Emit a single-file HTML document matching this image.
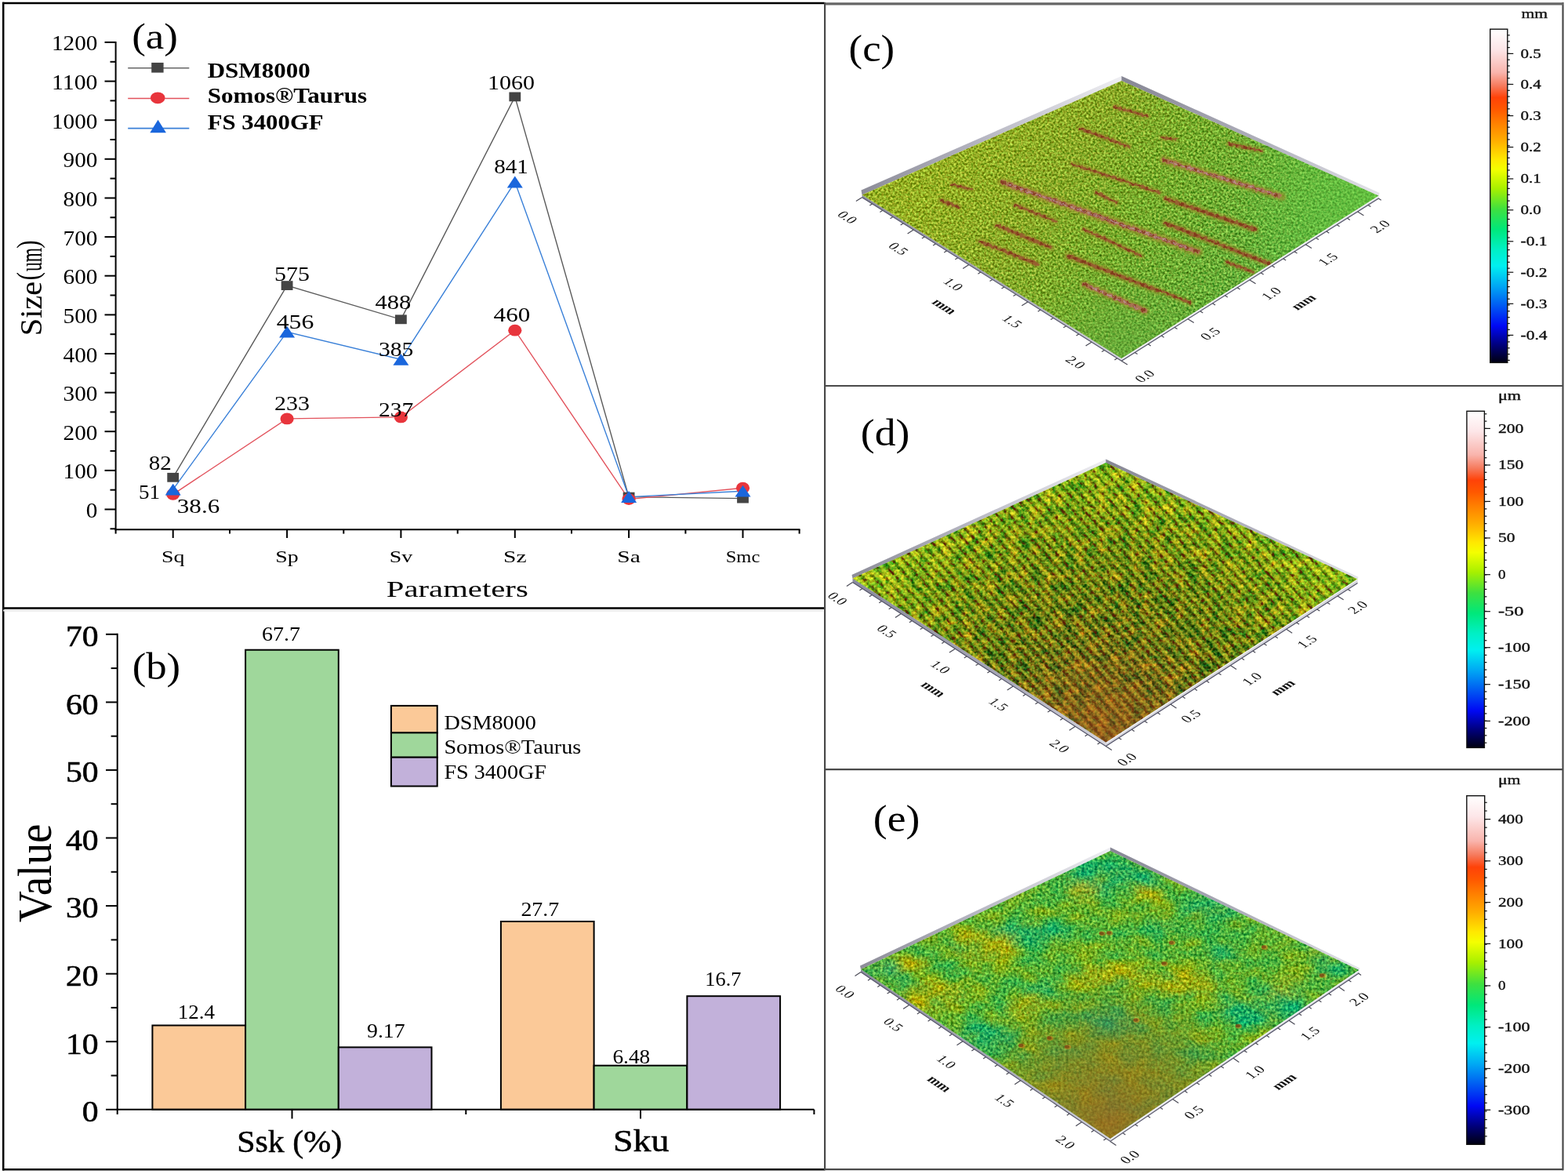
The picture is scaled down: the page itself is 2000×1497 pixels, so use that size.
<!DOCTYPE html><html><head><meta charset="utf-8"><title>Surface roughness figure</title>
<style>html,body{margin:0;padding:0;background:#fff;overflow:hidden}svg{display:block}</style></head><body>
<svg width="2000" height="1497" viewBox="0 0 2000 1497">
<rect width="2000" height="1497" fill="#fff"/>
<g stroke="#000" stroke-width="2" fill="none">
<line x1="147.6" y1="52.9" x2="147.6" y2="676.2"/>
<line x1="146.6" y1="675.2" x2="1020.5" y2="675.2"/>
<line x1="133.5" y1="649.5" x2="147.6" y2="649.5"/>
<line x1="133.5" y1="599.9" x2="147.6" y2="599.9"/>
<line x1="133.5" y1="550.2" x2="147.6" y2="550.2"/>
<line x1="133.5" y1="500.6" x2="147.6" y2="500.6"/>
<line x1="133.5" y1="451.0" x2="147.6" y2="451.0"/>
<line x1="133.5" y1="401.4" x2="147.6" y2="401.4"/>
<line x1="133.5" y1="351.7" x2="147.6" y2="351.7"/>
<line x1="133.5" y1="302.1" x2="147.6" y2="302.1"/>
<line x1="133.5" y1="252.5" x2="147.6" y2="252.5"/>
<line x1="133.5" y1="202.8" x2="147.6" y2="202.8"/>
<line x1="133.5" y1="153.2" x2="147.6" y2="153.2"/>
<line x1="133.5" y1="103.6" x2="147.6" y2="103.6"/>
<line x1="133.5" y1="53.9" x2="147.6" y2="53.9"/>
<line x1="140.5" y1="624.7" x2="147.6" y2="624.7"/>
<line x1="140.5" y1="575.1" x2="147.6" y2="575.1"/>
<line x1="140.5" y1="525.4" x2="147.6" y2="525.4"/>
<line x1="140.5" y1="475.8" x2="147.6" y2="475.8"/>
<line x1="140.5" y1="426.2" x2="147.6" y2="426.2"/>
<line x1="140.5" y1="376.5" x2="147.6" y2="376.5"/>
<line x1="140.5" y1="326.9" x2="147.6" y2="326.9"/>
<line x1="140.5" y1="277.3" x2="147.6" y2="277.3"/>
<line x1="140.5" y1="227.6" x2="147.6" y2="227.6"/>
<line x1="140.5" y1="178.0" x2="147.6" y2="178.0"/>
<line x1="140.5" y1="128.4" x2="147.6" y2="128.4"/>
<line x1="140.5" y1="78.8" x2="147.6" y2="78.8"/>
<line x1="140.5" y1="674.3" x2="147.6" y2="674.3"/>
<line x1="220.7" y1="675.2" x2="220.7" y2="686"/>
<line x1="366.1" y1="675.2" x2="366.1" y2="686"/>
<line x1="511.4" y1="675.2" x2="511.4" y2="686"/>
<line x1="656.8" y1="675.2" x2="656.8" y2="686"/>
<line x1="802.1" y1="675.2" x2="802.1" y2="686"/>
<line x1="947.5" y1="675.2" x2="947.5" y2="686"/>
<line x1="147.6" y1="675.2" x2="147.6" y2="680.6"/>
<line x1="293.0" y1="675.2" x2="293.0" y2="680.6"/>
<line x1="438.3" y1="675.2" x2="438.3" y2="680.6"/>
<line x1="583.7" y1="675.2" x2="583.7" y2="680.6"/>
<line x1="729.0" y1="675.2" x2="729.0" y2="680.6"/>
<line x1="874.4" y1="675.2" x2="874.4" y2="680.6"/>
<line x1="1019.6" y1="675.2" x2="1019.6" y2="680.6"/>
</g>
<text x="124.4" y="660.0" font-size="26.5" font-family="'Liberation Serif', 'Noto Serif CJK SC', serif" fill="#000" text-anchor="end" textLength="14.6" lengthAdjust="spacingAndGlyphs">0</text>
<text x="124.4" y="610.4" font-size="26.5" font-family="'Liberation Serif', 'Noto Serif CJK SC', serif" fill="#000" text-anchor="end" textLength="43.8" lengthAdjust="spacingAndGlyphs">100</text>
<text x="124.4" y="560.7" font-size="26.5" font-family="'Liberation Serif', 'Noto Serif CJK SC', serif" fill="#000" text-anchor="end" textLength="43.8" lengthAdjust="spacingAndGlyphs">200</text>
<text x="124.4" y="511.1" font-size="26.5" font-family="'Liberation Serif', 'Noto Serif CJK SC', serif" fill="#000" text-anchor="end" textLength="43.8" lengthAdjust="spacingAndGlyphs">300</text>
<text x="124.4" y="461.5" font-size="26.5" font-family="'Liberation Serif', 'Noto Serif CJK SC', serif" fill="#000" text-anchor="end" textLength="43.8" lengthAdjust="spacingAndGlyphs">400</text>
<text x="124.4" y="411.9" font-size="26.5" font-family="'Liberation Serif', 'Noto Serif CJK SC', serif" fill="#000" text-anchor="end" textLength="43.8" lengthAdjust="spacingAndGlyphs">500</text>
<text x="124.4" y="362.2" font-size="26.5" font-family="'Liberation Serif', 'Noto Serif CJK SC', serif" fill="#000" text-anchor="end" textLength="43.8" lengthAdjust="spacingAndGlyphs">600</text>
<text x="124.4" y="312.6" font-size="26.5" font-family="'Liberation Serif', 'Noto Serif CJK SC', serif" fill="#000" text-anchor="end" textLength="43.8" lengthAdjust="spacingAndGlyphs">700</text>
<text x="124.4" y="263.0" font-size="26.5" font-family="'Liberation Serif', 'Noto Serif CJK SC', serif" fill="#000" text-anchor="end" textLength="43.8" lengthAdjust="spacingAndGlyphs">800</text>
<text x="124.4" y="213.3" font-size="26.5" font-family="'Liberation Serif', 'Noto Serif CJK SC', serif" fill="#000" text-anchor="end" textLength="43.8" lengthAdjust="spacingAndGlyphs">900</text>
<text x="124.4" y="163.7" font-size="26.5" font-family="'Liberation Serif', 'Noto Serif CJK SC', serif" fill="#000" text-anchor="end" textLength="58.4" lengthAdjust="spacingAndGlyphs">1000</text>
<text x="124.4" y="114.1" font-size="26.5" font-family="'Liberation Serif', 'Noto Serif CJK SC', serif" fill="#000" text-anchor="end" textLength="58.4" lengthAdjust="spacingAndGlyphs">1100</text>
<text x="124.4" y="64.4" font-size="26.5" font-family="'Liberation Serif', 'Noto Serif CJK SC', serif" fill="#000" text-anchor="end" textLength="58.4" lengthAdjust="spacingAndGlyphs">1200</text>
<text x="220.7" y="716.6" font-size="22" font-family="'Liberation Serif', 'Noto Serif CJK SC', serif" fill="#000" text-anchor="middle" textLength="29.5" lengthAdjust="spacingAndGlyphs">Sq</text>
<text x="366.1" y="716.6" font-size="22" font-family="'Liberation Serif', 'Noto Serif CJK SC', serif" fill="#000" text-anchor="middle" textLength="29.5" lengthAdjust="spacingAndGlyphs">Sp</text>
<text x="511.4" y="716.6" font-size="22" font-family="'Liberation Serif', 'Noto Serif CJK SC', serif" fill="#000" text-anchor="middle" textLength="29.5" lengthAdjust="spacingAndGlyphs">Sv</text>
<text x="656.8" y="716.6" font-size="22" font-family="'Liberation Serif', 'Noto Serif CJK SC', serif" fill="#000" text-anchor="middle" textLength="29.5" lengthAdjust="spacingAndGlyphs">Sz</text>
<text x="802.1" y="716.6" font-size="22" font-family="'Liberation Serif', 'Noto Serif CJK SC', serif" fill="#000" text-anchor="middle" textLength="29.5" lengthAdjust="spacingAndGlyphs">Sa</text>
<text x="947.5" y="716.6" font-size="22" font-family="'Liberation Serif', 'Noto Serif CJK SC', serif" fill="#000" text-anchor="middle" textLength="43.5" lengthAdjust="spacingAndGlyphs">Smc</text>
<text x="583.3" y="760.5" font-size="29" font-family="'Liberation Serif', 'Noto Serif CJK SC', serif" fill="#000" text-anchor="middle" textLength="181.0" lengthAdjust="spacingAndGlyphs">Parameters</text>
<g transform="translate(52.5,367.7) rotate(-90) scale(1,1.24)">
<text x="-60.6" y="0.0" font-size="33" font-family="'Liberation Serif', 'Noto Serif CJK SC', serif" fill="#000" textLength="69.5" lengthAdjust="spacingAndGlyphs">Size</text>
<text x="10.2" y="-2.8" font-size="33" font-family="'Liberation Serif', 'Noto Serif CJK SC', serif" fill="#000" textLength="10.5" lengthAdjust="spacingAndGlyphs">(</text>
<text x="21.6" y="0.0" font-size="33" font-family="'Liberation Serif', 'Noto Serif CJK SC', serif" fill="#000" textLength="30.2" lengthAdjust="spacingAndGlyphs">um</text>
<text x="51.0" y="-2.8" font-size="33" font-family="'Liberation Serif', 'Noto Serif CJK SC', serif" fill="#000" textLength="10.5" lengthAdjust="spacingAndGlyphs">)</text>
</g>
<text x="168.2" y="61.6" font-size="47" font-family="'Liberation Serif', 'Noto Serif CJK SC', serif" fill="#000" textLength="58.7" lengthAdjust="spacingAndGlyphs">(a)</text>
<polyline points="220.7,608.8 366.1,364.1 511.4,407.3 656.8,123.4 802.1,633.6 947.5,635.6" fill="none" stroke="#5a5a5a" stroke-width="1.4"/>
<polyline points="220.7,630.3 366.1,533.9 511.4,531.9 656.8,421.2 802.1,636.6 947.5,622.2" fill="none" stroke="#e2525c" stroke-width="1.4"/>
<polyline points="220.7,624.2 366.1,423.2 511.4,458.4 656.8,232.1 802.1,633.6 947.5,626.2" fill="none" stroke="#3a80d8" stroke-width="1.4"/>
<rect x="213.3" y="602.9" width="14.8" height="11.8" fill="#444"/>
<rect x="358.7" y="358.2" width="14.8" height="11.8" fill="#444"/>
<rect x="504.0" y="401.4" width="14.8" height="11.8" fill="#444"/>
<rect x="649.4" y="117.5" width="14.8" height="11.8" fill="#444"/>
<rect x="794.7" y="627.7" width="14.8" height="11.8" fill="#444"/>
<rect x="940.1" y="629.7" width="14.8" height="11.8" fill="#444"/>
<ellipse cx="220.7" cy="630.3" rx="8.6" ry="7.4" fill="#e8353c"/>
<ellipse cx="366.1" cy="533.9" rx="8.6" ry="7.4" fill="#e8353c"/>
<ellipse cx="511.4" cy="531.9" rx="8.6" ry="7.4" fill="#e8353c"/>
<ellipse cx="656.8" cy="421.2" rx="8.6" ry="7.4" fill="#e8353c"/>
<ellipse cx="802.1" cy="636.6" rx="8.6" ry="7.4" fill="#e8353c"/>
<ellipse cx="947.5" cy="622.2" rx="8.6" ry="7.4" fill="#e8353c"/>
<polygon points="210.7,631.5 230.7,631.5 220.7,616.7" fill="#1a66dc"/>
<polygon points="356.1,430.5 376.1,430.5 366.1,415.7" fill="#1a66dc"/>
<polygon points="501.4,465.7 521.4,465.7 511.4,450.9" fill="#1a66dc"/>
<polygon points="646.8,239.4 666.8,239.4 656.8,224.6" fill="#1a66dc"/>
<polygon points="792.1,640.9 812.1,640.9 802.1,626.1" fill="#1a66dc"/>
<polygon points="937.5,633.5 957.5,633.5 947.5,618.7" fill="#1a66dc"/>
<text x="621.9" y="114.0" font-size="25.5" font-family="'Liberation Serif', 'Noto Serif CJK SC', serif" fill="#000" textLength="60.0" lengthAdjust="spacingAndGlyphs">1060</text>
<text x="630.2" y="221.4" font-size="25.5" font-family="'Liberation Serif', 'Noto Serif CJK SC', serif" fill="#000" textLength="43.7" lengthAdjust="spacingAndGlyphs">841</text>
<text x="629.6" y="410.4" font-size="25.5" font-family="'Liberation Serif', 'Noto Serif CJK SC', serif" fill="#000" textLength="46.6" lengthAdjust="spacingAndGlyphs">460</text>
<text x="478.5" y="394.4" font-size="25.5" font-family="'Liberation Serif', 'Noto Serif CJK SC', serif" fill="#000" textLength="45.8" lengthAdjust="spacingAndGlyphs">488</text>
<text x="483.0" y="453.8" font-size="25.5" font-family="'Liberation Serif', 'Noto Serif CJK SC', serif" fill="#000" textLength="44.4" lengthAdjust="spacingAndGlyphs">385</text>
<text x="483.0" y="530.5" font-size="25.5" font-family="'Liberation Serif', 'Noto Serif CJK SC', serif" fill="#000" textLength="44.4" lengthAdjust="spacingAndGlyphs">237</text>
<text x="350.0" y="358.1" font-size="25.5" font-family="'Liberation Serif', 'Noto Serif CJK SC', serif" fill="#000" textLength="45.0" lengthAdjust="spacingAndGlyphs">575</text>
<text x="352.7" y="418.9" font-size="25.5" font-family="'Liberation Serif', 'Noto Serif CJK SC', serif" fill="#000" textLength="47.7" lengthAdjust="spacingAndGlyphs">456</text>
<text x="350.0" y="523.1" font-size="25.5" font-family="'Liberation Serif', 'Noto Serif CJK SC', serif" fill="#000" textLength="45.0" lengthAdjust="spacingAndGlyphs">233</text>
<text x="189.7" y="599.2" font-size="25.5" font-family="'Liberation Serif', 'Noto Serif CJK SC', serif" fill="#000" textLength="29.0" lengthAdjust="spacingAndGlyphs">82</text>
<text x="176.9" y="636.1" font-size="25.5" font-family="'Liberation Serif', 'Noto Serif CJK SC', serif" fill="#000" textLength="27.1" lengthAdjust="spacingAndGlyphs">51</text>
<text x="225.8" y="654.0" font-size="25.5" font-family="'Liberation Serif', 'Noto Serif CJK SC', serif" fill="#000" textLength="54.4" lengthAdjust="spacingAndGlyphs">38.6</text>
<line x1="163.2" y1="86.8" x2="241.3" y2="86.8" stroke="#666" stroke-width="1.6"/>
<rect x="193.2" y="79.9" width="15.4" height="12.7" fill="#444"/>
<line x1="163.2" y1="125.5" x2="241.3" y2="125.5" stroke="#e2525c" stroke-width="1.6"/>
<ellipse cx="201.2" cy="124.8" rx="9.3" ry="7.4" fill="#e8353c"/>
<line x1="163.2" y1="163.6" x2="241.3" y2="163.6" stroke="#3a80d8" stroke-width="1.6"/>
<polygon points="191.3,169.3 211.9,169.3 201.5,152.8" fill="#1a66dc"/>
<text x="264.7" y="98.9" font-size="26.5" font-family="'Liberation Serif', 'Noto Serif CJK SC', serif" fill="#000" font-weight="bold" textLength="131.0" lengthAdjust="spacingAndGlyphs">DSM8000</text>
<text x="264.7" y="131.4" font-size="26.5" font-family="'Liberation Serif', 'Noto Serif CJK SC', serif" fill="#000" font-weight="bold" textLength="203.5" lengthAdjust="spacingAndGlyphs">Somos®Taurus</text>
<text x="264.7" y="164.9" font-size="26.5" font-family="'Liberation Serif', 'Noto Serif CJK SC', serif" fill="#000" font-weight="bold" textLength="148.0" lengthAdjust="spacingAndGlyphs">FS 3400GF</text>
<rect x="194.4" y="1307.5" width="118.7" height="107.3" fill="#fbc998" stroke="#000" stroke-width="2"/>
<rect x="313.1" y="828.7" width="118.7" height="586.1" fill="#9fd79b" stroke="#000" stroke-width="2"/>
<rect x="431.8" y="1335.4" width="118.7" height="79.4" fill="#c2b1da" stroke="#000" stroke-width="2"/>
<rect x="638.9" y="1175.0" width="118.7" height="239.8" fill="#fbc998" stroke="#000" stroke-width="2"/>
<rect x="757.6" y="1358.7" width="118.7" height="56.1" fill="#9fd79b" stroke="#000" stroke-width="2"/>
<rect x="876.4" y="1270.2" width="118.7" height="144.6" fill="#c2b1da" stroke="#000" stroke-width="2"/>
<g stroke="#000" stroke-width="2" fill="none">
<line x1="149.7" y1="807.8" x2="149.7" y2="1421"/>
<line x1="148.7" y1="1414.8" x2="1038.4" y2="1414.8"/>
<line x1="135" y1="1414.8" x2="149.7" y2="1414.8"/>
<line x1="135" y1="1328.2" x2="149.7" y2="1328.2"/>
<line x1="135" y1="1241.7" x2="149.7" y2="1241.7"/>
<line x1="135" y1="1155.1" x2="149.7" y2="1155.1"/>
<line x1="135" y1="1068.5" x2="149.7" y2="1068.5"/>
<line x1="135" y1="981.9" x2="149.7" y2="981.9"/>
<line x1="135" y1="895.4" x2="149.7" y2="895.4"/>
<line x1="135" y1="808.8" x2="149.7" y2="808.8"/>
<line x1="141.6" y1="1371.5" x2="149.7" y2="1371.5"/>
<line x1="141.6" y1="1284.9" x2="149.7" y2="1284.9"/>
<line x1="141.6" y1="1198.4" x2="149.7" y2="1198.4"/>
<line x1="141.6" y1="1111.8" x2="149.7" y2="1111.8"/>
<line x1="141.6" y1="1025.2" x2="149.7" y2="1025.2"/>
<line x1="141.6" y1="938.7" x2="149.7" y2="938.7"/>
<line x1="141.6" y1="852.1" x2="149.7" y2="852.1"/>
<line x1="372.5" y1="1414.8" x2="372.5" y2="1426.5"/>
<line x1="817" y1="1414.8" x2="817" y2="1426.5"/>
<line x1="594.3" y1="1414.8" x2="594.3" y2="1421"/>
<line x1="1038.4" y1="1414.8" x2="1038.4" y2="1421"/>
</g>
<text x="125.5" y="1430.1" font-size="37" font-family="'Liberation Serif', 'Noto Serif CJK SC', serif" fill="#000" text-anchor="end" textLength="20.8" lengthAdjust="spacingAndGlyphs" stroke="#000" stroke-width="0.6">0</text>
<text x="125.5" y="1343.5" font-size="37" font-family="'Liberation Serif', 'Noto Serif CJK SC', serif" fill="#000" text-anchor="end" textLength="41.6" lengthAdjust="spacingAndGlyphs" stroke="#000" stroke-width="0.6">10</text>
<text x="125.5" y="1257.0" font-size="37" font-family="'Liberation Serif', 'Noto Serif CJK SC', serif" fill="#000" text-anchor="end" textLength="41.6" lengthAdjust="spacingAndGlyphs" stroke="#000" stroke-width="0.6">20</text>
<text x="125.5" y="1170.4" font-size="37" font-family="'Liberation Serif', 'Noto Serif CJK SC', serif" fill="#000" text-anchor="end" textLength="41.6" lengthAdjust="spacingAndGlyphs" stroke="#000" stroke-width="0.6">30</text>
<text x="125.5" y="1083.8" font-size="37" font-family="'Liberation Serif', 'Noto Serif CJK SC', serif" fill="#000" text-anchor="end" textLength="41.6" lengthAdjust="spacingAndGlyphs" stroke="#000" stroke-width="0.6">40</text>
<text x="125.5" y="997.2" font-size="37" font-family="'Liberation Serif', 'Noto Serif CJK SC', serif" fill="#000" text-anchor="end" textLength="41.6" lengthAdjust="spacingAndGlyphs" stroke="#000" stroke-width="0.6">50</text>
<text x="125.5" y="910.7" font-size="37" font-family="'Liberation Serif', 'Noto Serif CJK SC', serif" fill="#000" text-anchor="end" textLength="41.6" lengthAdjust="spacingAndGlyphs" stroke="#000" stroke-width="0.6">60</text>
<text x="125.5" y="824.1" font-size="37" font-family="'Liberation Serif', 'Noto Serif CJK SC', serif" fill="#000" text-anchor="end" textLength="41.6" lengthAdjust="spacingAndGlyphs" stroke="#000" stroke-width="0.6">70</text>
<text x="168.7" y="866.0" font-size="48" font-family="'Liberation Serif', 'Noto Serif CJK SC', serif" fill="#000" textLength="61.5" lengthAdjust="spacingAndGlyphs">(b)</text>
<text x="0.0" y="0.0" font-size="50" font-family="'Liberation Serif', 'Noto Serif CJK SC', serif" fill="#000" text-anchor="middle" textLength="125.5" lengthAdjust="spacingAndGlyphs" transform="translate(64.5,1113.3) rotate(-90) scale(1,1.22)">Value</text>
<text x="369.2" y="1468.6" font-size="40" font-family="'Liberation Serif', 'Noto Serif CJK SC', serif" fill="#000" text-anchor="middle" textLength="134.0" lengthAdjust="spacingAndGlyphs" stroke="#000" stroke-width="0.5">Ssk (%)</text>
<text x="817.7" y="1467.6" font-size="40" font-family="'Liberation Serif', 'Noto Serif CJK SC', serif" fill="#000" text-anchor="middle" textLength="71.6" lengthAdjust="spacingAndGlyphs" stroke="#000" stroke-width="0.5">Sku</text>
<text x="334.0" y="817.2" font-size="24.5" font-family="'Liberation Serif', 'Noto Serif CJK SC', serif" fill="#000" textLength="49.0" lengthAdjust="spacingAndGlyphs">67.7</text>
<text x="226.7" y="1298.9" font-size="24.5" font-family="'Liberation Serif', 'Noto Serif CJK SC', serif" fill="#000" textLength="47.3" lengthAdjust="spacingAndGlyphs">12.4</text>
<text x="468.0" y="1323.3" font-size="24.5" font-family="'Liberation Serif', 'Noto Serif CJK SC', serif" fill="#000" textLength="48.6" lengthAdjust="spacingAndGlyphs">9.17</text>
<text x="664.4" y="1168.1" font-size="24.5" font-family="'Liberation Serif', 'Noto Serif CJK SC', serif" fill="#000" textLength="48.8" lengthAdjust="spacingAndGlyphs">27.7</text>
<text x="781.4" y="1355.7" font-size="24.5" font-family="'Liberation Serif', 'Noto Serif CJK SC', serif" fill="#000" textLength="47.9" lengthAdjust="spacingAndGlyphs">6.48</text>
<text x="899.3" y="1257.2" font-size="24.5" font-family="'Liberation Serif', 'Noto Serif CJK SC', serif" fill="#000" textLength="46.1" lengthAdjust="spacingAndGlyphs">16.7</text>
<rect x="498.9" y="899.9" width="58.8" height="34.5" fill="#fbc998" stroke="#000" stroke-width="2"/>
<rect x="498.9" y="934.4" width="58.8" height="31.3" fill="#9fd79b" stroke="#000" stroke-width="2"/>
<rect x="498.9" y="965.7" width="58.8" height="36.8" fill="#c2b1da" stroke="#000" stroke-width="2"/>
<text x="566.4" y="930.3" font-size="26" font-family="'Liberation Serif', 'Noto Serif CJK SC', serif" fill="#000" textLength="117.5" lengthAdjust="spacingAndGlyphs">DSM8000</text>
<text x="566.4" y="961.4" font-size="26" font-family="'Liberation Serif', 'Noto Serif CJK SC', serif" fill="#000" textLength="175.0" lengthAdjust="spacingAndGlyphs">Somos®Taurus</text>
<text x="566.4" y="992.7" font-size="26" font-family="'Liberation Serif', 'Noto Serif CJK SC', serif" fill="#000" textLength="130.5" lengthAdjust="spacingAndGlyphs">FS 3400GF</text>
<defs>
<linearGradient id="cbg" x1="0" y1="0" x2="0" y2="1"><stop offset="0.0" stop-color="#ffffff"/><stop offset="0.06" stop-color="#fde6e8"/><stop offset="0.13" stop-color="#f9b4ac"/><stop offset="0.17" stop-color="#f67a5c"/><stop offset="0.205" stop-color="#ff4208"/><stop offset="0.24" stop-color="#ff5800"/><stop offset="0.28" stop-color="#ff7e00"/><stop offset="0.335" stop-color="#ffae00"/><stop offset="0.39" stop-color="#ffe800"/><stop offset="0.42" stop-color="#f4ff00"/><stop offset="0.478" stop-color="#a8f000"/><stop offset="0.54" stop-color="#3ee040"/><stop offset="0.6" stop-color="#00e87a"/><stop offset="0.66" stop-color="#00f0c4"/><stop offset="0.71" stop-color="#00f0f0"/><stop offset="0.77" stop-color="#00a8f4"/><stop offset="0.82" stop-color="#0066f2"/><stop offset="0.89" stop-color="#0008f4"/><stop offset="0.945" stop-color="#000080"/><stop offset="1.0" stop-color="#000010"/></linearGradient>
<filter id="fxc" x="0" y="0" width="1" height="1" color-interpolation-filters="sRGB"><feTurbulence type="fractalNoise" baseFrequency="0.36" numOctaves="2" seed="7" result="n"/><feColorMatrix in="n" type="matrix" values="0.427 0.107 0 0 0.233  0.427 -0.043 0 0 0.308  0.299 0.000 0 0 0.350  0 0 0 0 1" result="m"/><feComposite in="SourceGraphic" in2="m" operator="arithmetic" k2="1" k3="2.0" k4="-1.0" result="r1"/></filter>
<filter id="rough" x="-5%" y="-20%" width="110%" height="140%"><feTurbulence type="fractalNoise" baseFrequency="0.25" numOctaves="2" seed="9" result="t"/><feDisplacementMap in="SourceGraphic" in2="t" scale="5" xChannelSelector="R" yChannelSelector="G" result="d"/><feGaussianBlur in="d" stdDeviation="0.6"/></filter>
<filter id="sblur" x="-10%" y="-50%" width="120%" height="200%"><feGaussianBlur stdDeviation="1.6"/></filter>
<filter id="fxd" x="0" y="0" width="1" height="1" color-interpolation-filters="sRGB"><feTurbulence type="fractalNoise" baseFrequency="0.3" numOctaves="2" seed="11" result="n"/><feColorMatrix in="n" type="matrix" values="0.427 0.385 0 0 0.094  0.470 0.000 0 0 0.265  0.171 0.000 0 0 0.415  0 0 0 0 1" result="m"/><feComposite in="SourceGraphic" in2="m" operator="arithmetic" k2="1" k3="2.0" k4="-1.0" result="r1"/><feTurbulence type="fractalNoise" baseFrequency="0.07" numOctaves="2" seed="13" result="n2"/><feColorMatrix in="n2" type="matrix" values="0.513 0.000 0 0 0.244  0.171 0.000 0 0 0.415  0.000 0.000 0 0 0.500  0 0 0 0 1" result="m2"/><feComposite in="r1" in2="m2" operator="arithmetic" k2="1" k3="2.0" k4="-1.0"/></filter>
<pattern id="pd" patternUnits="userSpaceOnUse" width="40" height="10.6"><rect y="0.8" width="40" height="4.6" fill="#d8e030" fill-opacity="0.2"/><rect y="1.8" width="40" height="2.6" fill="#e8e830" fill-opacity="0.22"/><rect y="6.4" width="40" height="3.2" fill="#183000" fill-opacity="0.28"/></pattern>
<pattern id="pdd" patternUnits="userSpaceOnUse" width="40" height="10.6"><rect y="6.2" width="40" height="3.6" fill="#5a1806"/></pattern>
<filter id="dots" x="0" y="0" width="1" height="1" color-interpolation-filters="sRGB"><feTurbulence type="fractalNoise" baseFrequency="0.22 0.3" numOctaves="1" seed="21" result="n"/><feColorMatrix in="n" type="matrix" values="0 0 0 0 0  0 0 0 0 0  0 0 0 0 0  6 0 0 0 -3.0" result="a"/><feComposite in="SourceGraphic" in2="a" operator="in"/></filter>
<filter id="fxe" x="0" y="0" width="1" height="1" color-interpolation-filters="sRGB"><feTurbulence type="fractalNoise" baseFrequency="0.3" numOctaves="2" seed="3" result="n"/><feColorMatrix in="n" type="matrix" values="0.385 0.171 0 0 0.222  0.427 0.000 0 0 0.286  0.214 0.000 0 0 0.393  0 0 0 0 1" result="m"/><feComposite in="SourceGraphic" in2="m" operator="arithmetic" k2="1" k3="2.0" k4="-1.0" result="r1"/><feTurbulence type="fractalNoise" baseFrequency="0.03 0.045" numOctaves="2" seed="5" result="n2"/><feColorMatrix in="n2" type="matrix" values="0.285 0.000 0 0 0.358  -0.000 0.000 0 0 0.500  -0.171 0.000 0 0 0.585  0 0 0 0 1" result="m2"/><feComposite in="r1" in2="m2" operator="arithmetic" k2="1" k3="2.0" k4="-1.0"/></filter>
<filter id="pblur" x="-20%" y="-20%" width="140%" height="140%"><feGaussianBlur stdDeviation="7"/></filter>
<linearGradient id="gc" gradientUnits="userSpaceOnUse" x1="1250" y1="150" x2="1600" y2="400">
<stop offset="0" stop-color="#94ae24"/><stop offset="0.3" stop-color="#88a828"/><stop offset="0.55" stop-color="#76aa2d"/><stop offset="1" stop-color="#62ac3c"/></linearGradient>
<radialGradient id="gc2" gradientUnits="userSpaceOnUse" cx="1745" cy="250" r="175">
<stop offset="0" stop-color="#64cc42" stop-opacity="0.95"/><stop offset="0.5" stop-color="#64cc42" stop-opacity="0.55"/><stop offset="1" stop-color="#64cc42" stop-opacity="0"/></radialGradient>
<radialGradient id="gc3" gradientUnits="userSpaceOnUse" cx="1430" cy="450" r="120">
<stop offset="0" stop-color="#5faa41" stop-opacity="0.7"/><stop offset="1" stop-color="#5faa41" stop-opacity="0"/></radialGradient>
<radialGradient id="gd" gradientUnits="userSpaceOnUse" cx="1410" cy="946" r="360">
<stop offset="0" stop-color="#8c5a1c"/><stop offset="0.25" stop-color="#726818"/><stop offset="0.5" stop-color="#5e7612"/><stop offset="0.75" stop-color="#739612"/><stop offset="1" stop-color="#88bc16"/></radialGradient>
<radialGradient id="gd2" gradientUnits="userSpaceOnUse" cx="1410" cy="940" r="130">
<stop offset="0" stop-color="#925c1e" stop-opacity="0.9"/><stop offset="1" stop-color="#925c1e" stop-opacity="0"/></radialGradient>
<radialGradient id="ge2" gradientUnits="userSpaceOnUse" cx="1416" cy="1430" r="185">
<stop offset="0" stop-color="#a4601e" stop-opacity="0.92"/><stop offset="0.55" stop-color="#9a6a1c" stop-opacity="0.55"/><stop offset="1" stop-color="#96701a" stop-opacity="0"/></radialGradient>
<clipPath id="clc"><polygon points="1099.5,248.5 1430.5,103.0 1758.6,249.7 1430.5,457.0"/></clipPath>
<clipPath id="cld"><polygon points="1087.5,737.5 1410.5,590.0 1731.6,738.4 1410.5,946.6"/></clipPath>
<clipPath id="cle"><polygon points="1098.0,1236.0 1416.2,1085.0 1733.5,1237.1 1416.2,1451.8"/></clipPath>
</defs>
<linearGradient id="wlc" gradientUnits="userSpaceOnUse" x1="1099.5" y1="248.5" x2="1430.5" y2="103"><stop offset="0" stop-color="#8c8c98"/><stop offset="0.45" stop-color="#b4b4c0"/><stop offset="1" stop-color="#eeeef2"/></linearGradient>
<linearGradient id="wrc" gradientUnits="userSpaceOnUse" x1="1430.5" y1="103" x2="1758.6" y2="249.7"><stop offset="0" stop-color="#868694"/><stop offset="0.6" stop-color="#b4b4c0"/><stop offset="1" stop-color="#e4e4ea"/></linearGradient>
<polygon points="1098.5,242.5 1430.5,97.0 1430.5,103.0 1099.5,248.5" fill="url(#wlc)"/>
<polygon points="1430.5,97.0 1759.6,246.1 1758.6,249.7 1430.5,103.0" fill="url(#wrc)"/>
<linearGradient id="flc" gradientUnits="userSpaceOnUse" x1="1099.5" y1="248.5" x2="1430.5" y2="457"><stop offset="0" stop-color="#8a8a9c"/><stop offset="0.6" stop-color="#a8a8b8"/><stop offset="1" stop-color="#d4d4de"/></linearGradient>
<polygon points="1099.5,248.5 1430.5,457.0 1430.5,460.2 1099.5,251.7" fill="url(#flc)"/>
<polygon points="1430.5,457.0 1758.6,249.7 1758.6,252.9 1430.5,460.2" fill="#d4d4dc"/>
<g clip-path="url(#clc)">
<rect x="1097.5" y="101" width="663.0999999999999" height="358" fill="url(#gc)" filter="url(#fxc)"/>
<rect x="1097.5" y="101" width="663.0999999999999" height="358" fill="url(#gc2)" opacity="0.6"/>
<rect x="1097.5" y="101" width="663.0999999999999" height="358" fill="url(#gc3)" opacity="0.6"/>
<g stroke-linecap="round" opacity="0.6" filter="url(#sblur)">
<line x1="1421.8" y1="136.4" x2="1463.4" y2="148.1" stroke="#9a8a2a" stroke-width="7.2"/>
<line x1="1377.6" y1="163.7" x2="1440" y2="187.1" stroke="#9a8a2a" stroke-width="7.2"/>
<line x1="1481.6" y1="175.4" x2="1499.8" y2="178" stroke="#9a8a2a" stroke-width="6.0"/>
<line x1="1567.4" y1="183.2" x2="1609" y2="192.3" stroke="#9a8a2a" stroke-width="7.2"/>
<line x1="1484.2" y1="204" x2="1635" y2="250.8" stroke="#9a8a2a" stroke-width="10.8"/>
<line x1="1367.2" y1="209.2" x2="1479" y2="245.6" stroke="#9a8a2a" stroke-width="7.2"/>
<line x1="1278.8" y1="232.6" x2="1528.4" y2="321" stroke="#9a8a2a" stroke-width="12.0"/>
<line x1="1486.8" y1="253.4" x2="1601.2" y2="292.4" stroke="#9a8a2a" stroke-width="9.6"/>
<line x1="1213.8" y1="235.2" x2="1239.8" y2="241.7" stroke="#9a8a2a" stroke-width="6.0"/>
<line x1="1200.8" y1="256" x2="1221.6" y2="263.8" stroke="#9a8a2a" stroke-width="8.4"/>
<line x1="1294.4" y1="261.2" x2="1346.4" y2="282" stroke="#9a8a2a" stroke-width="7.2"/>
<line x1="1398.4" y1="245.6" x2="1424.4" y2="258.6" stroke="#9a8a2a" stroke-width="7.2"/>
<line x1="1486.8" y1="284.6" x2="1619.4" y2="336.6" stroke="#9a8a2a" stroke-width="9.6"/>
<line x1="1271" y1="287.2" x2="1341.2" y2="315.8" stroke="#9a8a2a" stroke-width="8.4"/>
<line x1="1250.2" y1="308" x2="1323" y2="336.6" stroke="#9a8a2a" stroke-width="8.4"/>
<line x1="1382.8" y1="292.4" x2="1455.6" y2="326.2" stroke="#9a8a2a" stroke-width="7.2"/>
<line x1="1362" y1="326.2" x2="1476.4" y2="370.4" stroke="#9a8a2a" stroke-width="9.6"/>
<line x1="1382.8" y1="362.6" x2="1460.8" y2="396.4" stroke="#9a8a2a" stroke-width="10.8"/>
<line x1="1564.8" y1="334" x2="1598.6" y2="347" stroke="#9a8a2a" stroke-width="7.2"/>
<line x1="1479" y1="370.4" x2="1518" y2="386" stroke="#9a8a2a" stroke-width="7.2"/>
</g>
<g stroke-linecap="round" opacity="0.85" filter="url(#rough)">
<line x1="1421.8" y1="136.4" x2="1463.4" y2="148.1" stroke="#985430" stroke-width="3.4" stroke-dasharray="9 2 12 3 5 2"/>
<line x1="1377.6" y1="163.7" x2="1440" y2="187.1" stroke="#985430" stroke-width="3.4" stroke-dasharray="9 2 12 3 5 2"/>
<line x1="1481.6" y1="175.4" x2="1499.8" y2="178" stroke="#985430" stroke-width="2.9" stroke-dasharray="9 2 12 3 5 2"/>
<line x1="1567.4" y1="183.2" x2="1609" y2="192.3" stroke="#985430" stroke-width="3.4" stroke-dasharray="9 2 12 3 5 2"/>
<line x1="1484.2" y1="204" x2="1635" y2="250.8" stroke="#b07058" stroke-width="5.2" stroke-dasharray="9 2 12 3 5 2"/>
<line x1="1367.2" y1="209.2" x2="1479" y2="245.6" stroke="#985430" stroke-width="3.4" stroke-dasharray="9 2 12 3 5 2"/>
<line x1="1278.8" y1="232.6" x2="1528.4" y2="321" stroke="#b07058" stroke-width="5.8" stroke-dasharray="9 2 12 3 5 2"/>
<line x1="1486.8" y1="253.4" x2="1601.2" y2="292.4" stroke="#985430" stroke-width="4.6" stroke-dasharray="9 2 12 3 5 2"/>
<line x1="1213.8" y1="235.2" x2="1239.8" y2="241.7" stroke="#985430" stroke-width="2.9" stroke-dasharray="9 2 12 3 5 2"/>
<line x1="1200.8" y1="256" x2="1221.6" y2="263.8" stroke="#985430" stroke-width="4.0" stroke-dasharray="9 2 12 3 5 2"/>
<line x1="1294.4" y1="261.2" x2="1346.4" y2="282" stroke="#985430" stroke-width="3.4" stroke-dasharray="9 2 12 3 5 2"/>
<line x1="1398.4" y1="245.6" x2="1424.4" y2="258.6" stroke="#985430" stroke-width="3.4" stroke-dasharray="9 2 12 3 5 2"/>
<line x1="1486.8" y1="284.6" x2="1619.4" y2="336.6" stroke="#985430" stroke-width="4.6" stroke-dasharray="9 2 12 3 5 2"/>
<line x1="1271" y1="287.2" x2="1341.2" y2="315.8" stroke="#985430" stroke-width="4.0" stroke-dasharray="9 2 12 3 5 2"/>
<line x1="1250.2" y1="308" x2="1323" y2="336.6" stroke="#985430" stroke-width="4.0" stroke-dasharray="9 2 12 3 5 2"/>
<line x1="1382.8" y1="292.4" x2="1455.6" y2="326.2" stroke="#985430" stroke-width="3.4" stroke-dasharray="9 2 12 3 5 2"/>
<line x1="1362" y1="326.2" x2="1476.4" y2="370.4" stroke="#985430" stroke-width="4.6" stroke-dasharray="9 2 12 3 5 2"/>
<line x1="1382.8" y1="362.6" x2="1460.8" y2="396.4" stroke="#b07058" stroke-width="5.2" stroke-dasharray="9 2 12 3 5 2"/>
<line x1="1564.8" y1="334" x2="1598.6" y2="347" stroke="#985430" stroke-width="3.4" stroke-dasharray="9 2 12 3 5 2"/>
<line x1="1479" y1="370.4" x2="1518" y2="386" stroke="#985430" stroke-width="3.4" stroke-dasharray="9 2 12 3 5 2"/>
</g>
<g stroke-linecap="round" opacity="0.75" filter="url(#rough)">
<line x1="1421.8" y1="136.4" x2="1463.4" y2="148.1" stroke="#7a2e16" stroke-width="2.2" stroke-dasharray="3 6 2 9"/>
<line x1="1377.6" y1="163.7" x2="1440" y2="187.1" stroke="#7a2e16" stroke-width="2.2" stroke-dasharray="3 6 2 9"/>
<line x1="1481.6" y1="175.4" x2="1499.8" y2="178" stroke="#7a2e16" stroke-width="1.9" stroke-dasharray="3 6 2 9"/>
<line x1="1567.4" y1="183.2" x2="1609" y2="192.3" stroke="#7a2e16" stroke-width="2.2" stroke-dasharray="3 6 2 9"/>
<line x1="1484.2" y1="204" x2="1635" y2="250.8" stroke="#7a2e16" stroke-width="3.4" stroke-dasharray="3 6 2 9"/>
<line x1="1367.2" y1="209.2" x2="1479" y2="245.6" stroke="#7a2e16" stroke-width="2.2" stroke-dasharray="3 6 2 9"/>
<line x1="1278.8" y1="232.6" x2="1528.4" y2="321" stroke="#7a2e16" stroke-width="3.8" stroke-dasharray="3 6 2 9"/>
<line x1="1486.8" y1="253.4" x2="1601.2" y2="292.4" stroke="#7a2e16" stroke-width="3.0" stroke-dasharray="3 6 2 9"/>
<line x1="1213.8" y1="235.2" x2="1239.8" y2="241.7" stroke="#7a2e16" stroke-width="1.9" stroke-dasharray="3 6 2 9"/>
<line x1="1200.8" y1="256" x2="1221.6" y2="263.8" stroke="#7a2e16" stroke-width="2.6" stroke-dasharray="3 6 2 9"/>
<line x1="1294.4" y1="261.2" x2="1346.4" y2="282" stroke="#7a2e16" stroke-width="2.2" stroke-dasharray="3 6 2 9"/>
<line x1="1398.4" y1="245.6" x2="1424.4" y2="258.6" stroke="#7a2e16" stroke-width="2.2" stroke-dasharray="3 6 2 9"/>
<line x1="1486.8" y1="284.6" x2="1619.4" y2="336.6" stroke="#7a2e16" stroke-width="3.0" stroke-dasharray="3 6 2 9"/>
<line x1="1271" y1="287.2" x2="1341.2" y2="315.8" stroke="#7a2e16" stroke-width="2.6" stroke-dasharray="3 6 2 9"/>
<line x1="1250.2" y1="308" x2="1323" y2="336.6" stroke="#7a2e16" stroke-width="2.6" stroke-dasharray="3 6 2 9"/>
<line x1="1382.8" y1="292.4" x2="1455.6" y2="326.2" stroke="#7a2e16" stroke-width="2.2" stroke-dasharray="3 6 2 9"/>
<line x1="1362" y1="326.2" x2="1476.4" y2="370.4" stroke="#7a2e16" stroke-width="3.0" stroke-dasharray="3 6 2 9"/>
<line x1="1382.8" y1="362.6" x2="1460.8" y2="396.4" stroke="#7a2e16" stroke-width="3.4" stroke-dasharray="3 6 2 9"/>
<line x1="1564.8" y1="334" x2="1598.6" y2="347" stroke="#7a2e16" stroke-width="2.2" stroke-dasharray="3 6 2 9"/>
<line x1="1479" y1="370.4" x2="1518" y2="386" stroke="#7a2e16" stroke-width="2.2" stroke-dasharray="3 6 2 9"/>
</g>
<g stroke-linecap="round" opacity="0.6" stroke="#c8a8c4" stroke-width="1.4" filter="url(#rough)">
<line x1="1492.2" y1="207" x2="1625" y2="247.3" stroke-dasharray="10 4 6 3"/>
<line x1="1286.8" y1="235.6" x2="1518.4" y2="317.5" stroke-dasharray="10 4 6 3"/>
<line x1="1390.8" y1="365.6" x2="1450.8" y2="392.9" stroke-dasharray="10 4 6 3"/>
</g>
</g>
<polyline points="1099.5,251.7 1430.5,460.2 1758.6,252.9" fill="none" stroke="#55556a" stroke-width="1.2"/>
<polyline points="1431.5,457.6 1758.6,250.3" fill="none" stroke="#f4f4f6" stroke-width="1.2"/>
<g stroke="#4a4a56" stroke-width="1.2">
<line x1="1099.5" y1="251.7" x2="1091.9" y2="256.5"/>
<line x1="1112.6" y1="260.0" x2="1109.3" y2="262.1"/>
<line x1="1125.8" y1="268.3" x2="1122.4" y2="270.4"/>
<line x1="1138.9" y1="276.5" x2="1135.5" y2="278.7"/>
<line x1="1152.1" y1="284.8" x2="1148.7" y2="286.9"/>
<line x1="1165.2" y1="293.1" x2="1157.6" y2="297.9"/>
<line x1="1179.3" y1="302.0" x2="1175.9" y2="304.1"/>
<line x1="1193.4" y1="310.9" x2="1190.1" y2="313.0"/>
<line x1="1207.6" y1="319.8" x2="1204.2" y2="321.9"/>
<line x1="1221.7" y1="328.7" x2="1218.3" y2="330.8"/>
<line x1="1235.8" y1="337.6" x2="1228.2" y2="342.4"/>
<line x1="1250.8" y1="347.0" x2="1247.4" y2="349.2"/>
<line x1="1265.8" y1="356.5" x2="1262.5" y2="358.6"/>
<line x1="1280.9" y1="365.9" x2="1277.5" y2="368.1"/>
<line x1="1295.9" y1="375.4" x2="1292.5" y2="377.5"/>
<line x1="1310.9" y1="384.9" x2="1303.3" y2="389.7"/>
<line x1="1327.2" y1="395.1" x2="1323.8" y2="397.3"/>
<line x1="1343.5" y1="405.4" x2="1340.1" y2="407.5"/>
<line x1="1359.8" y1="415.7" x2="1356.4" y2="417.8"/>
<line x1="1376.1" y1="425.9" x2="1372.7" y2="428.1"/>
<line x1="1392.4" y1="436.2" x2="1384.8" y2="441.0"/>
<line x1="1408.7" y1="446.5" x2="1405.3" y2="448.6"/>
<line x1="1425.0" y1="456.7" x2="1421.6" y2="458.9"/>
<line x1="1430.5" y1="460.2" x2="1438.1" y2="465.0"/>
<line x1="1447.4" y1="449.5" x2="1450.8" y2="451.6"/>
<line x1="1464.4" y1="438.8" x2="1467.8" y2="440.9"/>
<line x1="1481.3" y1="428.1" x2="1484.7" y2="430.2"/>
<line x1="1498.3" y1="417.4" x2="1501.6" y2="419.5"/>
<line x1="1515.2" y1="406.7" x2="1522.8" y2="411.5"/>
<line x1="1531.0" y1="396.7" x2="1534.3" y2="398.9"/>
<line x1="1546.7" y1="386.8" x2="1550.1" y2="388.9"/>
<line x1="1562.5" y1="376.8" x2="1565.9" y2="378.9"/>
<line x1="1578.3" y1="366.8" x2="1581.6" y2="369.0"/>
<line x1="1594.0" y1="356.9" x2="1601.6" y2="361.7"/>
<line x1="1608.3" y1="347.9" x2="1611.7" y2="350.0"/>
<line x1="1622.6" y1="338.9" x2="1625.9" y2="341.0"/>
<line x1="1636.8" y1="329.8" x2="1640.2" y2="332.0"/>
<line x1="1651.1" y1="320.8" x2="1654.5" y2="323.0"/>
<line x1="1665.4" y1="311.8" x2="1673.0" y2="316.6"/>
<line x1="1678.6" y1="303.4" x2="1682.0" y2="305.5"/>
<line x1="1691.9" y1="295.0" x2="1695.3" y2="297.2"/>
<line x1="1705.2" y1="286.6" x2="1708.6" y2="288.8"/>
<line x1="1718.5" y1="278.2" x2="1721.9" y2="280.4"/>
<line x1="1731.8" y1="269.9" x2="1739.4" y2="274.7"/>
<line x1="1745.0" y1="261.5" x2="1748.4" y2="263.6"/>
<line x1="1758.3" y1="253.1" x2="1761.7" y2="255.2"/>
</g>
<text x="0.0" y="6.0" font-size="17.5" font-family="'Liberation Serif', 'Noto Serif CJK SC', serif" fill="#111" text-anchor="middle" transform="matrix(0.850,0.527,-0.845,0.534,1081.0,277.0)">0.0</text>
<text x="0.0" y="6.0" font-size="17.5" font-family="'Liberation Serif', 'Noto Serif CJK SC', serif" fill="#111" text-anchor="middle" transform="matrix(0.850,0.527,-0.845,0.534,1146.0,317.0)">0.5</text>
<text x="0.0" y="6.0" font-size="17.5" font-family="'Liberation Serif', 'Noto Serif CJK SC', serif" fill="#111" text-anchor="middle" transform="matrix(0.850,0.527,-0.845,0.534,1216.0,362.4)">1.0</text>
<text x="0.0" y="6.0" font-size="17.5" font-family="'Liberation Serif', 'Noto Serif CJK SC', serif" fill="#111" text-anchor="middle" transform="matrix(0.850,0.527,-0.845,0.534,1291.2,409.6)">1.5</text>
<text x="0.0" y="6.0" font-size="17.5" font-family="'Liberation Serif', 'Noto Serif CJK SC', serif" fill="#111" text-anchor="middle" transform="matrix(0.850,0.527,-0.845,0.534,1372.0,462.0)">2.0</text>
<text x="0.0" y="6.0" font-size="17.5" font-family="'Liberation Serif', 'Noto Serif CJK SC', serif" fill="#111" text-anchor="middle" transform="matrix(0.849,-0.528,0.846,0.533,1459.9,479.6)">0.0</text>
<text x="0.0" y="6.0" font-size="17.5" font-family="'Liberation Serif', 'Noto Serif CJK SC', serif" fill="#111" text-anchor="middle" transform="matrix(0.849,-0.528,0.846,0.533,1543.5,425.6)">0.5</text>
<text x="0.0" y="6.0" font-size="17.5" font-family="'Liberation Serif', 'Noto Serif CJK SC', serif" fill="#111" text-anchor="middle" transform="matrix(0.849,-0.528,0.846,0.533,1621.4,374.3)">1.0</text>
<text x="0.0" y="6.0" font-size="17.5" font-family="'Liberation Serif', 'Noto Serif CJK SC', serif" fill="#111" text-anchor="middle" transform="matrix(0.849,-0.528,0.846,0.533,1693.6,330.6)">1.5</text>
<text x="0.0" y="6.0" font-size="17.5" font-family="'Liberation Serif', 'Noto Serif CJK SC', serif" fill="#111" text-anchor="middle" transform="matrix(0.849,-0.528,0.846,0.533,1760.1,288.8)">2.0</text>
<text x="0.0" y="5.0" font-size="17.5" font-family="'Liberation Serif', 'Noto Serif CJK SC', serif" fill="#111" text-anchor="middle" font-weight="bold" transform="matrix(0.850,0.527,-0.845,0.534,1204.0,391.2)">mm</text>
<text x="0.0" y="5.0" font-size="17.5" font-family="'Liberation Serif', 'Noto Serif CJK SC', serif" fill="#111" text-anchor="middle" font-weight="bold" transform="matrix(0.849,-0.528,0.846,0.533,1663.2,385.7)">mm</text>
<rect x="1900.7" y="37.2" width="22.1" height="425.2" fill="url(#cbg)" stroke="#111" stroke-width="1.4"/>
<g stroke="#111" stroke-width="1.2">
<line x1="1922.8" y1="44.9" x2="1925.8" y2="44.9"/>
<line x1="1922.8" y1="52.8" x2="1925.8" y2="52.8"/>
<line x1="1922.8" y1="60.6" x2="1925.8" y2="60.6"/>
<line x1="1922.8" y1="68.4" x2="1925.8" y2="68.4"/>
<line x1="1922.8" y1="76.2" x2="1925.8" y2="76.2"/>
<line x1="1922.8" y1="84.0" x2="1925.8" y2="84.0"/>
<line x1="1922.8" y1="91.9" x2="1925.8" y2="91.9"/>
<line x1="1922.8" y1="99.7" x2="1925.8" y2="99.7"/>
<line x1="1922.8" y1="107.5" x2="1925.8" y2="107.5"/>
<line x1="1922.8" y1="115.3" x2="1925.8" y2="115.3"/>
<line x1="1922.8" y1="123.1" x2="1925.8" y2="123.1"/>
<line x1="1922.8" y1="131.0" x2="1925.8" y2="131.0"/>
<line x1="1922.8" y1="138.8" x2="1925.8" y2="138.8"/>
<line x1="1922.8" y1="146.6" x2="1925.8" y2="146.6"/>
<line x1="1922.8" y1="154.4" x2="1925.8" y2="154.4"/>
<line x1="1922.8" y1="162.2" x2="1925.8" y2="162.2"/>
<line x1="1922.8" y1="170.1" x2="1925.8" y2="170.1"/>
<line x1="1922.8" y1="177.9" x2="1925.8" y2="177.9"/>
<line x1="1922.8" y1="185.7" x2="1925.8" y2="185.7"/>
<line x1="1922.8" y1="193.5" x2="1925.8" y2="193.5"/>
<line x1="1922.8" y1="201.3" x2="1925.8" y2="201.3"/>
<line x1="1922.8" y1="209.2" x2="1925.8" y2="209.2"/>
<line x1="1922.8" y1="217.0" x2="1925.8" y2="217.0"/>
<line x1="1922.8" y1="224.8" x2="1925.8" y2="224.8"/>
<line x1="1922.8" y1="232.6" x2="1925.8" y2="232.6"/>
<line x1="1922.8" y1="240.4" x2="1925.8" y2="240.4"/>
<line x1="1922.8" y1="248.3" x2="1925.8" y2="248.3"/>
<line x1="1922.8" y1="256.1" x2="1925.8" y2="256.1"/>
<line x1="1922.8" y1="263.9" x2="1925.8" y2="263.9"/>
<line x1="1922.8" y1="271.7" x2="1925.8" y2="271.7"/>
<line x1="1922.8" y1="279.5" x2="1925.8" y2="279.5"/>
<line x1="1922.8" y1="287.4" x2="1925.8" y2="287.4"/>
<line x1="1922.8" y1="295.2" x2="1925.8" y2="295.2"/>
<line x1="1922.8" y1="303.0" x2="1925.8" y2="303.0"/>
<line x1="1922.8" y1="310.8" x2="1925.8" y2="310.8"/>
<line x1="1922.8" y1="318.6" x2="1925.8" y2="318.6"/>
<line x1="1922.8" y1="326.5" x2="1925.8" y2="326.5"/>
<line x1="1922.8" y1="334.3" x2="1925.8" y2="334.3"/>
<line x1="1922.8" y1="342.1" x2="1925.8" y2="342.1"/>
<line x1="1922.8" y1="349.9" x2="1925.8" y2="349.9"/>
<line x1="1922.8" y1="357.7" x2="1925.8" y2="357.7"/>
<line x1="1922.8" y1="365.6" x2="1925.8" y2="365.6"/>
<line x1="1922.8" y1="373.4" x2="1925.8" y2="373.4"/>
<line x1="1922.8" y1="381.2" x2="1925.8" y2="381.2"/>
<line x1="1922.8" y1="389.0" x2="1925.8" y2="389.0"/>
<line x1="1922.8" y1="396.8" x2="1925.8" y2="396.8"/>
<line x1="1922.8" y1="404.7" x2="1925.8" y2="404.7"/>
<line x1="1922.8" y1="412.5" x2="1925.8" y2="412.5"/>
<line x1="1922.8" y1="420.3" x2="1925.8" y2="420.3"/>
<line x1="1922.8" y1="428.1" x2="1925.8" y2="428.1"/>
<line x1="1922.8" y1="435.9" x2="1925.8" y2="435.9"/>
<line x1="1922.8" y1="443.8" x2="1925.8" y2="443.8"/>
<line x1="1922.8" y1="451.6" x2="1925.8" y2="451.6"/>
<line x1="1922.8" y1="459.4" x2="1925.8" y2="459.4"/>
<line x1="1922.8" y1="68.4" x2="1930.3" y2="68.4"/>
<line x1="1922.8" y1="107.5" x2="1930.3" y2="107.5"/>
<line x1="1922.8" y1="147.6" x2="1930.3" y2="147.6"/>
<line x1="1922.8" y1="187.6" x2="1930.3" y2="187.6"/>
<line x1="1922.8" y1="228.0" x2="1930.3" y2="228.0"/>
<line x1="1922.8" y1="267.8" x2="1930.3" y2="267.8"/>
<line x1="1922.8" y1="307.8" x2="1930.3" y2="307.8"/>
<line x1="1922.8" y1="347.2" x2="1930.3" y2="347.2"/>
<line x1="1922.8" y1="387.3" x2="1930.3" y2="387.3"/>
<line x1="1922.8" y1="427.4" x2="1930.3" y2="427.4"/>
</g>
<text x="1939.6" y="73.8" font-size="16" font-family="'Liberation Serif', 'Noto Serif CJK SC', serif" fill="#111" textLength="26.2" lengthAdjust="spacingAndGlyphs" stroke="#111" stroke-width="0.35">0.5</text>
<text x="1939.6" y="112.9" font-size="16" font-family="'Liberation Serif', 'Noto Serif CJK SC', serif" fill="#111" textLength="26.2" lengthAdjust="spacingAndGlyphs" stroke="#111" stroke-width="0.35">0.4</text>
<text x="1939.6" y="153.0" font-size="16" font-family="'Liberation Serif', 'Noto Serif CJK SC', serif" fill="#111" textLength="26.2" lengthAdjust="spacingAndGlyphs" stroke="#111" stroke-width="0.35">0.3</text>
<text x="1939.6" y="193.0" font-size="16" font-family="'Liberation Serif', 'Noto Serif CJK SC', serif" fill="#111" textLength="26.2" lengthAdjust="spacingAndGlyphs" stroke="#111" stroke-width="0.35">0.2</text>
<text x="1939.6" y="233.4" font-size="16" font-family="'Liberation Serif', 'Noto Serif CJK SC', serif" fill="#111" textLength="26.2" lengthAdjust="spacingAndGlyphs" stroke="#111" stroke-width="0.35">0.1</text>
<text x="1939.6" y="273.2" font-size="16" font-family="'Liberation Serif', 'Noto Serif CJK SC', serif" fill="#111" textLength="26.2" lengthAdjust="spacingAndGlyphs" stroke="#111" stroke-width="0.35">0.0</text>
<text x="1939.6" y="313.2" font-size="16" font-family="'Liberation Serif', 'Noto Serif CJK SC', serif" fill="#111" textLength="34.0" lengthAdjust="spacingAndGlyphs" stroke="#111" stroke-width="0.35">-0.1</text>
<text x="1939.6" y="352.6" font-size="16" font-family="'Liberation Serif', 'Noto Serif CJK SC', serif" fill="#111" textLength="34.0" lengthAdjust="spacingAndGlyphs" stroke="#111" stroke-width="0.35">-0.2</text>
<text x="1939.6" y="392.7" font-size="16" font-family="'Liberation Serif', 'Noto Serif CJK SC', serif" fill="#111" textLength="34.0" lengthAdjust="spacingAndGlyphs" stroke="#111" stroke-width="0.35">-0.3</text>
<text x="1939.6" y="432.8" font-size="16" font-family="'Liberation Serif', 'Noto Serif CJK SC', serif" fill="#111" textLength="34.0" lengthAdjust="spacingAndGlyphs" stroke="#111" stroke-width="0.35">-0.4</text>
<text x="1940.4" y="23.2" font-size="16" font-family="'Liberation Serif', 'Noto Serif CJK SC', serif" fill="#111" textLength="33.6" lengthAdjust="spacingAndGlyphs" stroke="#111" stroke-width="0.35">mm</text>
<text x="1082.6" y="78.0" font-size="48.5" font-family="'Liberation Serif', 'Noto Serif CJK SC', serif" fill="#000" textLength="58.5" lengthAdjust="spacingAndGlyphs">(c)</text>
<linearGradient id="wld" gradientUnits="userSpaceOnUse" x1="1087.5" y1="737.5" x2="1410.5" y2="590"><stop offset="0" stop-color="#8c8c98"/><stop offset="0.45" stop-color="#b4b4c0"/><stop offset="1" stop-color="#eeeef2"/></linearGradient>
<linearGradient id="wrd" gradientUnits="userSpaceOnUse" x1="1410.5" y1="590" x2="1731.6" y2="738.4"><stop offset="0" stop-color="#868694"/><stop offset="0.6" stop-color="#b4b4c0"/><stop offset="1" stop-color="#e4e4ea"/></linearGradient>
<polygon points="1086.5,733.0 1410.5,585.5 1410.5,590.0 1087.5,737.5" fill="url(#wld)"/>
<polygon points="1410.5,585.5 1732.6,735.7 1731.6,738.4 1410.5,590.0" fill="url(#wrd)"/>
<linearGradient id="fld" gradientUnits="userSpaceOnUse" x1="1087.5" y1="737.5" x2="1410.5" y2="946.6"><stop offset="0" stop-color="#8a8a9c"/><stop offset="0.6" stop-color="#a8a8b8"/><stop offset="1" stop-color="#d4d4de"/></linearGradient>
<polygon points="1087.5,737.5 1410.5,946.6 1410.5,951.6 1087.5,742.5" fill="url(#fld)"/>
<polygon points="1410.5,946.6 1731.6,738.4 1731.6,743.4 1410.5,951.6" fill="#d4d4dc"/>
<g clip-path="url(#cld)">
<rect x="1085.5" y="588" width="648.0999999999999" height="360.6" fill="url(#gd)" filter="url(#fxd)"/>
<g transform="rotate(47.0 1409.5 768.3)">
<rect x="990" y="348" width="840" height="840" fill="url(#pd)"/>
<rect x="990" y="348" width="840" height="840" fill="url(#pdd)" filter="url(#dots)"/>
</g>
<rect x="1085.5" y="588" width="648.0999999999999" height="360.6" fill="url(#gd2)" opacity="0.6"/>
</g>
<polyline points="1087.5,742.5 1410.5,951.6 1731.6,743.4" fill="none" stroke="#55556a" stroke-width="1.2"/>
<polyline points="1411.5,947.2 1731.6,739.0" fill="none" stroke="#f4f4f6" stroke-width="1.2"/>
<g stroke="#4a4a56" stroke-width="1.2">
<line x1="1087.5" y1="742.5" x2="1079.9" y2="747.4"/>
<line x1="1099.9" y1="750.5" x2="1096.5" y2="752.7"/>
<line x1="1112.3" y1="758.5" x2="1108.9" y2="760.7"/>
<line x1="1124.6" y1="766.5" x2="1121.3" y2="768.7"/>
<line x1="1137.0" y1="774.6" x2="1133.7" y2="776.7"/>
<line x1="1149.4" y1="782.6" x2="1141.9" y2="787.5"/>
<line x1="1163.2" y1="791.5" x2="1159.9" y2="793.7"/>
<line x1="1177.0" y1="800.4" x2="1173.7" y2="802.6"/>
<line x1="1190.8" y1="809.4" x2="1187.5" y2="811.6"/>
<line x1="1204.6" y1="818.3" x2="1201.3" y2="820.5"/>
<line x1="1218.4" y1="827.2" x2="1210.9" y2="832.1"/>
<line x1="1233.2" y1="836.8" x2="1229.8" y2="839.0"/>
<line x1="1248.0" y1="846.4" x2="1244.6" y2="848.6"/>
<line x1="1262.7" y1="855.9" x2="1259.4" y2="858.1"/>
<line x1="1277.5" y1="865.5" x2="1274.2" y2="867.7"/>
<line x1="1292.3" y1="875.1" x2="1284.7" y2="880.0"/>
<line x1="1308.1" y1="885.3" x2="1304.8" y2="887.5"/>
<line x1="1324.0" y1="895.6" x2="1320.6" y2="897.8"/>
<line x1="1339.8" y1="905.8" x2="1336.4" y2="908.0"/>
<line x1="1355.6" y1="916.1" x2="1352.3" y2="918.3"/>
<line x1="1371.5" y1="926.3" x2="1363.9" y2="931.2"/>
<line x1="1387.3" y1="936.6" x2="1383.9" y2="938.8"/>
<line x1="1403.1" y1="946.8" x2="1399.8" y2="949.0"/>
<line x1="1410.5" y1="951.6" x2="1418.1" y2="956.5"/>
<line x1="1427.0" y1="940.9" x2="1430.4" y2="943.1"/>
<line x1="1443.5" y1="930.2" x2="1446.9" y2="932.4"/>
<line x1="1460.0" y1="919.5" x2="1463.4" y2="921.7"/>
<line x1="1476.5" y1="908.8" x2="1479.8" y2="911.0"/>
<line x1="1493.0" y1="898.1" x2="1500.5" y2="903.0"/>
<line x1="1508.3" y1="888.2" x2="1511.7" y2="890.4"/>
<line x1="1523.6" y1="878.3" x2="1527.0" y2="880.4"/>
<line x1="1538.9" y1="868.3" x2="1542.3" y2="870.5"/>
<line x1="1554.2" y1="858.4" x2="1557.6" y2="860.6"/>
<line x1="1569.5" y1="848.5" x2="1577.1" y2="853.4"/>
<line x1="1583.7" y1="839.3" x2="1587.1" y2="841.4"/>
<line x1="1598.0" y1="830.0" x2="1601.3" y2="832.2"/>
<line x1="1612.2" y1="820.8" x2="1615.6" y2="823.0"/>
<line x1="1626.5" y1="811.6" x2="1629.8" y2="813.8"/>
<line x1="1640.7" y1="802.3" x2="1648.2" y2="807.2"/>
<line x1="1653.8" y1="793.9" x2="1657.1" y2="796.0"/>
<line x1="1666.9" y1="785.4" x2="1670.2" y2="787.6"/>
<line x1="1679.9" y1="776.9" x2="1683.3" y2="779.1"/>
<line x1="1693.0" y1="768.4" x2="1696.4" y2="770.6"/>
<line x1="1706.1" y1="759.9" x2="1713.7" y2="764.8"/>
<line x1="1719.2" y1="751.4" x2="1722.6" y2="753.6"/>
</g>
<text x="0.0" y="6.0" font-size="17.5" font-family="'Liberation Serif', 'Noto Serif CJK SC', serif" fill="#111" text-anchor="middle" transform="matrix(0.845,0.534,-0.839,0.544,1068.5,763.1)">0.0</text>
<text x="0.0" y="6.0" font-size="17.5" font-family="'Liberation Serif', 'Noto Serif CJK SC', serif" fill="#111" text-anchor="middle" transform="matrix(0.845,0.534,-0.839,0.544,1131.2,804.9)">0.5</text>
<text x="0.0" y="6.0" font-size="17.5" font-family="'Liberation Serif', 'Noto Serif CJK SC', serif" fill="#111" text-anchor="middle" transform="matrix(0.845,0.534,-0.839,0.544,1199.6,850.5)">1.0</text>
<text x="0.0" y="6.0" font-size="17.5" font-family="'Liberation Serif', 'Noto Serif CJK SC', serif" fill="#111" text-anchor="middle" transform="matrix(0.845,0.534,-0.839,0.544,1273.7,898.0)">1.5</text>
<text x="0.0" y="6.0" font-size="17.5" font-family="'Liberation Serif', 'Noto Serif CJK SC', serif" fill="#111" text-anchor="middle" transform="matrix(0.845,0.534,-0.839,0.544,1351.6,951.2)">2.0</text>
<text x="0.0" y="6.0" font-size="17.5" font-family="'Liberation Serif', 'Noto Serif CJK SC', serif" fill="#111" text-anchor="middle" transform="matrix(0.845,-0.535,0.839,0.543,1437.1,968.3)">0.0</text>
<text x="0.0" y="6.0" font-size="17.5" font-family="'Liberation Serif', 'Noto Serif CJK SC', serif" fill="#111" text-anchor="middle" transform="matrix(0.845,-0.535,0.839,0.543,1518.8,913.2)">0.5</text>
<text x="0.0" y="6.0" font-size="17.5" font-family="'Liberation Serif', 'Noto Serif CJK SC', serif" fill="#111" text-anchor="middle" transform="matrix(0.845,-0.535,0.839,0.543,1596.7,865.7)">1.0</text>
<text x="0.0" y="6.0" font-size="17.5" font-family="'Liberation Serif', 'Noto Serif CJK SC', serif" fill="#111" text-anchor="middle" transform="matrix(0.845,-0.535,0.839,0.543,1667.0,818.2)">1.5</text>
<text x="0.0" y="6.0" font-size="17.5" font-family="'Liberation Serif', 'Noto Serif CJK SC', serif" fill="#111" text-anchor="middle" transform="matrix(0.845,-0.535,0.839,0.543,1731.6,774.5)">2.0</text>
<text x="0.0" y="5.0" font-size="17.5" font-family="'Liberation Serif', 'Noto Serif CJK SC', serif" fill="#111" text-anchor="middle" font-weight="bold" transform="matrix(0.845,0.534,-0.839,0.544,1190.0,879.0)">mm</text>
<text x="0.0" y="5.0" font-size="17.5" font-family="'Liberation Serif', 'Noto Serif CJK SC', serif" fill="#111" text-anchor="middle" font-weight="bold" transform="matrix(0.845,-0.535,0.839,0.543,1636.6,877.1)">mm</text>
<rect x="1870.9" y="524.3" width="22.5" height="429.1" fill="url(#cbg)" stroke="#111" stroke-width="1.4"/>
<g stroke="#111" stroke-width="1.2">
<line x1="1893.4" y1="527.8" x2="1896.4" y2="527.8"/>
<line x1="1893.4" y1="537.1" x2="1896.4" y2="537.1"/>
<line x1="1893.4" y1="546.4" x2="1896.4" y2="546.4"/>
<line x1="1893.4" y1="555.7" x2="1896.4" y2="555.7"/>
<line x1="1893.4" y1="565.0" x2="1896.4" y2="565.0"/>
<line x1="1893.4" y1="574.4" x2="1896.4" y2="574.4"/>
<line x1="1893.4" y1="583.7" x2="1896.4" y2="583.7"/>
<line x1="1893.4" y1="593.0" x2="1896.4" y2="593.0"/>
<line x1="1893.4" y1="602.3" x2="1896.4" y2="602.3"/>
<line x1="1893.4" y1="611.6" x2="1896.4" y2="611.6"/>
<line x1="1893.4" y1="621.0" x2="1896.4" y2="621.0"/>
<line x1="1893.4" y1="630.3" x2="1896.4" y2="630.3"/>
<line x1="1893.4" y1="639.6" x2="1896.4" y2="639.6"/>
<line x1="1893.4" y1="648.9" x2="1896.4" y2="648.9"/>
<line x1="1893.4" y1="658.2" x2="1896.4" y2="658.2"/>
<line x1="1893.4" y1="667.6" x2="1896.4" y2="667.6"/>
<line x1="1893.4" y1="676.9" x2="1896.4" y2="676.9"/>
<line x1="1893.4" y1="686.2" x2="1896.4" y2="686.2"/>
<line x1="1893.4" y1="695.5" x2="1896.4" y2="695.5"/>
<line x1="1893.4" y1="704.8" x2="1896.4" y2="704.8"/>
<line x1="1893.4" y1="714.2" x2="1896.4" y2="714.2"/>
<line x1="1893.4" y1="723.5" x2="1896.4" y2="723.5"/>
<line x1="1893.4" y1="732.8" x2="1896.4" y2="732.8"/>
<line x1="1893.4" y1="742.1" x2="1896.4" y2="742.1"/>
<line x1="1893.4" y1="751.4" x2="1896.4" y2="751.4"/>
<line x1="1893.4" y1="760.8" x2="1896.4" y2="760.8"/>
<line x1="1893.4" y1="770.1" x2="1896.4" y2="770.1"/>
<line x1="1893.4" y1="779.4" x2="1896.4" y2="779.4"/>
<line x1="1893.4" y1="788.7" x2="1896.4" y2="788.7"/>
<line x1="1893.4" y1="798.0" x2="1896.4" y2="798.0"/>
<line x1="1893.4" y1="807.4" x2="1896.4" y2="807.4"/>
<line x1="1893.4" y1="816.7" x2="1896.4" y2="816.7"/>
<line x1="1893.4" y1="826.0" x2="1896.4" y2="826.0"/>
<line x1="1893.4" y1="835.3" x2="1896.4" y2="835.3"/>
<line x1="1893.4" y1="844.6" x2="1896.4" y2="844.6"/>
<line x1="1893.4" y1="854.0" x2="1896.4" y2="854.0"/>
<line x1="1893.4" y1="863.3" x2="1896.4" y2="863.3"/>
<line x1="1893.4" y1="872.6" x2="1896.4" y2="872.6"/>
<line x1="1893.4" y1="881.9" x2="1896.4" y2="881.9"/>
<line x1="1893.4" y1="891.2" x2="1896.4" y2="891.2"/>
<line x1="1893.4" y1="900.6" x2="1896.4" y2="900.6"/>
<line x1="1893.4" y1="909.9" x2="1896.4" y2="909.9"/>
<line x1="1893.4" y1="919.2" x2="1896.4" y2="919.2"/>
<line x1="1893.4" y1="928.5" x2="1896.4" y2="928.5"/>
<line x1="1893.4" y1="937.8" x2="1896.4" y2="937.8"/>
<line x1="1893.4" y1="947.2" x2="1896.4" y2="947.2"/>
<line x1="1893.4" y1="546.4" x2="1900.9" y2="546.4"/>
<line x1="1893.4" y1="593.0" x2="1900.9" y2="593.0"/>
<line x1="1893.4" y1="639.4" x2="1900.9" y2="639.4"/>
<line x1="1893.4" y1="686.0" x2="1900.9" y2="686.0"/>
<line x1="1893.4" y1="732.7" x2="1900.9" y2="732.7"/>
<line x1="1893.4" y1="779.7" x2="1900.9" y2="779.7"/>
<line x1="1893.4" y1="825.7" x2="1900.9" y2="825.7"/>
<line x1="1893.4" y1="872.7" x2="1900.9" y2="872.7"/>
<line x1="1893.4" y1="919.4" x2="1900.9" y2="919.4"/>
</g>
<text x="1911.0" y="551.8" font-size="16" font-family="'Liberation Serif', 'Noto Serif CJK SC', serif" fill="#111" textLength="32.4" lengthAdjust="spacingAndGlyphs" stroke="#111" stroke-width="0.35">200</text>
<text x="1911.0" y="598.4" font-size="16" font-family="'Liberation Serif', 'Noto Serif CJK SC', serif" fill="#111" textLength="32.4" lengthAdjust="spacingAndGlyphs" stroke="#111" stroke-width="0.35">150</text>
<text x="1911.0" y="644.8" font-size="16" font-family="'Liberation Serif', 'Noto Serif CJK SC', serif" fill="#111" textLength="32.4" lengthAdjust="spacingAndGlyphs" stroke="#111" stroke-width="0.35">100</text>
<text x="1911.0" y="691.4" font-size="16" font-family="'Liberation Serif', 'Noto Serif CJK SC', serif" fill="#111" textLength="21.5" lengthAdjust="spacingAndGlyphs" stroke="#111" stroke-width="0.35">50</text>
<text x="1911.0" y="738.1" font-size="16" font-family="'Liberation Serif', 'Noto Serif CJK SC', serif" fill="#111" textLength="9.5" lengthAdjust="spacingAndGlyphs" stroke="#111" stroke-width="0.35">0</text>
<text x="1911.0" y="785.1" font-size="16" font-family="'Liberation Serif', 'Noto Serif CJK SC', serif" fill="#111" textLength="32.4" lengthAdjust="spacingAndGlyphs" stroke="#111" stroke-width="0.35">-50</text>
<text x="1911.0" y="831.1" font-size="16" font-family="'Liberation Serif', 'Noto Serif CJK SC', serif" fill="#111" textLength="40.9" lengthAdjust="spacingAndGlyphs" stroke="#111" stroke-width="0.35">-100</text>
<text x="1911.0" y="878.1" font-size="16" font-family="'Liberation Serif', 'Noto Serif CJK SC', serif" fill="#111" textLength="40.9" lengthAdjust="spacingAndGlyphs" stroke="#111" stroke-width="0.35">-150</text>
<text x="1911.0" y="924.8" font-size="16" font-family="'Liberation Serif', 'Noto Serif CJK SC', serif" fill="#111" textLength="40.9" lengthAdjust="spacingAndGlyphs" stroke="#111" stroke-width="0.35">-200</text>
<text x="1911.0" y="510.0" font-size="16" font-family="'Liberation Serif', 'Noto Serif CJK SC', serif" fill="#111" textLength="29.0" lengthAdjust="spacingAndGlyphs" stroke="#111" stroke-width="0.35">μm</text>
<text x="1097.8" y="568.0" font-size="48.5" font-family="'Liberation Serif', 'Noto Serif CJK SC', serif" fill="#000" textLength="62.5" lengthAdjust="spacingAndGlyphs">(d)</text>
<linearGradient id="wle" gradientUnits="userSpaceOnUse" x1="1098" y1="1236" x2="1416.2" y2="1085"><stop offset="0" stop-color="#8c8c98"/><stop offset="0.45" stop-color="#b4b4c0"/><stop offset="1" stop-color="#eeeef2"/></linearGradient>
<linearGradient id="wre" gradientUnits="userSpaceOnUse" x1="1416.2" y1="1085" x2="1733.5" y2="1237.1"><stop offset="0" stop-color="#868694"/><stop offset="0.6" stop-color="#b4b4c0"/><stop offset="1" stop-color="#e4e4ea"/></linearGradient>
<polygon points="1097.0,1231.5 1416.2,1080.5 1416.2,1085.0 1098.0,1236.0" fill="url(#wle)"/>
<polygon points="1416.2,1080.5 1734.5,1234.4 1733.5,1237.1 1416.2,1085.0" fill="url(#wre)"/>
<linearGradient id="fle" gradientUnits="userSpaceOnUse" x1="1098" y1="1236" x2="1416.2" y2="1451.8"><stop offset="0" stop-color="#8a8a9c"/><stop offset="0.6" stop-color="#a8a8b8"/><stop offset="1" stop-color="#d4d4de"/></linearGradient>
<polygon points="1098.0,1236.0 1416.2,1451.8 1416.2,1455.4 1098.0,1239.6" fill="url(#fle)"/>
<polygon points="1416.2,1451.8 1733.5,1237.1 1733.5,1240.7 1416.2,1455.4" fill="#d4d4dc"/>
<g clip-path="url(#cle)">
<g filter="url(#fxe)">
<rect x="1096" y="1083" width="639.5" height="370.79999999999995" fill="#5cae32"/>
<g filter="url(#pblur)">
<ellipse cx="1318" cy="1190" rx="48" ry="15" fill="#1eaa6a" opacity="0.7"/>
<ellipse cx="1125" cy="1238" rx="28" ry="10" fill="#1eaa6a" opacity="0.7"/>
<ellipse cx="1415" cy="1116" rx="60" ry="18" fill="#1eaa6a" opacity="0.7"/>
<ellipse cx="1545" cy="1158" rx="42" ry="14" fill="#1eaa6a" opacity="0.7"/>
<ellipse cx="1610" cy="1288" rx="62" ry="22" fill="#1eaa6a" opacity="0.7"/>
<ellipse cx="1252" cy="1322" rx="42" ry="18" fill="#1eaa6a" opacity="0.7"/>
<ellipse cx="1420" cy="1303" rx="42" ry="18" fill="#1eaa6a" opacity="0.7"/>
<ellipse cx="1700" cy="1236" rx="26" ry="10" fill="#1eaa6a" opacity="0.7"/>
<ellipse cx="1330" cy="1262" rx="20" ry="10" fill="#1eaa6a" opacity="0.7"/>
<ellipse cx="1480" cy="1180" rx="20" ry="8" fill="#1eaa6a" opacity="0.7"/>
<ellipse cx="1560" cy="1215" rx="22" ry="10" fill="#1eaa6a" opacity="0.7"/>
<ellipse cx="1252" cy="1205" rx="42" ry="22" fill="#a4aa14" opacity="0.75"/>
<ellipse cx="1382" cy="1142" rx="26" ry="12" fill="#a4aa14" opacity="0.75"/>
<ellipse cx="1415" cy="1244" rx="58" ry="15" fill="#a4aa14" opacity="0.75"/>
<ellipse cx="1187" cy="1270" rx="46" ry="20" fill="#a4aa14" opacity="0.75"/>
<ellipse cx="1512" cy="1254" rx="46" ry="18" fill="#a4aa14" opacity="0.75"/>
<ellipse cx="1642" cy="1254" rx="26" ry="12" fill="#a4aa14" opacity="0.75"/>
<ellipse cx="1160" cy="1228" rx="30" ry="10" fill="#a4aa14" opacity="0.75"/>
<ellipse cx="1470" cy="1140" rx="22" ry="9" fill="#a4aa14" opacity="0.75"/>
<ellipse cx="1300" cy="1285" rx="25" ry="12" fill="#a4aa14" opacity="0.75"/>
<ellipse cx="1680" cy="1210" rx="20" ry="8" fill="#a4aa14" opacity="0.75"/>
</g>
</g>
<rect x="1096" y="1083" width="639.5" height="370.79999999999995" fill="url(#ge2)" opacity="0.85"/>
<ellipse cx="1415.3" cy="1190.1" rx="4.2" ry="3" fill="#c88020" opacity="0.6"/>
<ellipse cx="1414.3" cy="1189.6" rx="3" ry="2.1" fill="#6a3010" opacity="0.6"/>
<ellipse cx="1495.0" cy="1202.3" rx="4.2" ry="3" fill="#c88020" opacity="0.6"/>
<ellipse cx="1494.0" cy="1201.8" rx="3" ry="2.1" fill="#6a3010" opacity="0.6"/>
<ellipse cx="1485.6" cy="1228.9" rx="4.2" ry="3" fill="#c88020" opacity="0.6"/>
<ellipse cx="1484.6" cy="1228.4" rx="3" ry="2.1" fill="#6a3010" opacity="0.6"/>
<ellipse cx="1613.0" cy="1208.0" rx="4.2" ry="3" fill="#c88020" opacity="0.6"/>
<ellipse cx="1612.0" cy="1207.5" rx="3" ry="2.1" fill="#6a3010" opacity="0.6"/>
<ellipse cx="1339.3" cy="1323.9" rx="4.2" ry="3" fill="#c88020" opacity="0.6"/>
<ellipse cx="1338.3" cy="1323.4" rx="3" ry="2.1" fill="#6a3010" opacity="0.6"/>
<ellipse cx="1362.0" cy="1335.3" rx="4.2" ry="3" fill="#c88020" opacity="0.6"/>
<ellipse cx="1361.0" cy="1334.8" rx="3" ry="2.1" fill="#6a3010" opacity="0.6"/>
<ellipse cx="1579.8" cy="1308.7" rx="4.2" ry="3" fill="#c88020" opacity="0.6"/>
<ellipse cx="1578.8" cy="1308.2" rx="3" ry="2.1" fill="#6a3010" opacity="0.6"/>
<ellipse cx="1449.5" cy="1301.1" rx="4.2" ry="3" fill="#c88020" opacity="0.6"/>
<ellipse cx="1448.5" cy="1300.6" rx="3" ry="2.1" fill="#6a3010" opacity="0.6"/>
<ellipse cx="1303.2" cy="1333.4" rx="4.2" ry="3" fill="#c88020" opacity="0.6"/>
<ellipse cx="1302.2" cy="1332.9" rx="3" ry="2.1" fill="#6a3010" opacity="0.6"/>
<ellipse cx="1687.0" cy="1244.1" rx="4.2" ry="3" fill="#c88020" opacity="0.6"/>
<ellipse cx="1686.0" cy="1243.6" rx="3" ry="2.1" fill="#6a3010" opacity="0.6"/>
<ellipse cx="1406.0" cy="1190.5" rx="4.2" ry="3" fill="#c88020" opacity="0.6"/>
<ellipse cx="1405.0" cy="1190.0" rx="3" ry="2.1" fill="#6a3010" opacity="0.6"/>
</g>
<polyline points="1098.0,1239.6 1416.2,1455.4 1733.5,1240.7" fill="none" stroke="#55556a" stroke-width="1.2"/>
<polyline points="1417.2,1452.4 1733.5,1237.7" fill="none" stroke="#f4f4f6" stroke-width="1.2"/>
<g stroke="#4a4a56" stroke-width="1.2">
<line x1="1098.0" y1="1239.6" x2="1090.5" y2="1244.6"/>
<line x1="1110.3" y1="1248.0" x2="1107.0" y2="1250.2"/>
<line x1="1122.6" y1="1256.3" x2="1119.3" y2="1258.5"/>
<line x1="1135.0" y1="1264.7" x2="1131.6" y2="1266.9"/>
<line x1="1147.3" y1="1273.0" x2="1144.0" y2="1275.3"/>
<line x1="1159.6" y1="1281.4" x2="1152.1" y2="1286.4"/>
<line x1="1173.3" y1="1290.6" x2="1169.9" y2="1292.9"/>
<line x1="1186.9" y1="1299.9" x2="1183.6" y2="1302.2"/>
<line x1="1200.6" y1="1309.2" x2="1197.3" y2="1311.4"/>
<line x1="1214.3" y1="1318.5" x2="1211.0" y2="1320.7"/>
<line x1="1228.0" y1="1327.7" x2="1220.5" y2="1332.8"/>
<line x1="1242.7" y1="1337.7" x2="1239.4" y2="1340.0"/>
<line x1="1257.4" y1="1347.7" x2="1254.1" y2="1350.0"/>
<line x1="1272.2" y1="1357.7" x2="1268.9" y2="1360.0"/>
<line x1="1286.9" y1="1367.7" x2="1283.6" y2="1370.0"/>
<line x1="1301.7" y1="1377.7" x2="1294.2" y2="1382.8"/>
<line x1="1317.3" y1="1388.3" x2="1314.0" y2="1390.6"/>
<line x1="1332.9" y1="1398.9" x2="1329.6" y2="1401.1"/>
<line x1="1348.5" y1="1409.5" x2="1345.2" y2="1411.7"/>
<line x1="1364.1" y1="1420.1" x2="1360.8" y2="1422.3"/>
<line x1="1379.7" y1="1430.7" x2="1372.3" y2="1435.7"/>
<line x1="1395.3" y1="1441.3" x2="1392.0" y2="1443.5"/>
<line x1="1411.0" y1="1451.8" x2="1407.6" y2="1454.1"/>
<line x1="1416.2" y1="1455.4" x2="1423.6" y2="1460.5"/>
<line x1="1432.1" y1="1444.6" x2="1435.4" y2="1446.9"/>
<line x1="1448.0" y1="1433.9" x2="1451.3" y2="1436.1"/>
<line x1="1463.9" y1="1423.1" x2="1467.2" y2="1425.3"/>
<line x1="1479.8" y1="1412.3" x2="1483.1" y2="1414.6"/>
<line x1="1495.7" y1="1401.6" x2="1503.2" y2="1406.6"/>
<line x1="1511.2" y1="1391.1" x2="1514.5" y2="1393.4"/>
<line x1="1526.6" y1="1380.7" x2="1530.0" y2="1382.9"/>
<line x1="1542.1" y1="1370.2" x2="1545.4" y2="1372.5"/>
<line x1="1557.5" y1="1359.8" x2="1560.9" y2="1362.0"/>
<line x1="1573.0" y1="1349.3" x2="1580.4" y2="1354.4"/>
<line x1="1587.2" y1="1339.7" x2="1590.5" y2="1341.9"/>
<line x1="1601.5" y1="1330.0" x2="1604.8" y2="1332.3"/>
<line x1="1615.7" y1="1320.4" x2="1619.0" y2="1322.7"/>
<line x1="1629.9" y1="1310.8" x2="1633.2" y2="1313.0"/>
<line x1="1644.1" y1="1301.2" x2="1651.6" y2="1306.2"/>
<line x1="1656.8" y1="1292.6" x2="1660.1" y2="1294.8"/>
<line x1="1669.5" y1="1284.0" x2="1672.8" y2="1286.3"/>
<line x1="1682.1" y1="1275.5" x2="1685.4" y2="1277.7"/>
<line x1="1694.8" y1="1266.9" x2="1698.1" y2="1269.1"/>
<line x1="1707.4" y1="1258.3" x2="1714.9" y2="1263.4"/>
<line x1="1720.1" y1="1249.8" x2="1723.4" y2="1252.0"/>
<line x1="1732.8" y1="1241.2" x2="1736.1" y2="1243.5"/>
</g>
<text x="0.0" y="6.0" font-size="17.5" font-family="'Liberation Serif', 'Noto Serif CJK SC', serif" fill="#111" text-anchor="middle" transform="matrix(0.832,0.555,-0.828,0.560,1078.0,1264.5)">0.0</text>
<text x="0.0" y="6.0" font-size="17.5" font-family="'Liberation Serif', 'Noto Serif CJK SC', serif" fill="#111" text-anchor="middle" transform="matrix(0.832,0.555,-0.828,0.560,1139.6,1306.3)">0.5</text>
<text x="0.0" y="6.0" font-size="17.5" font-family="'Liberation Serif', 'Noto Serif CJK SC', serif" fill="#111" text-anchor="middle" transform="matrix(0.832,0.555,-0.828,0.560,1207.2,1353.8)">1.0</text>
<text x="0.0" y="6.0" font-size="17.5" font-family="'Liberation Serif', 'Noto Serif CJK SC', serif" fill="#111" text-anchor="middle" transform="matrix(0.832,0.555,-0.828,0.560,1281.3,1403.2)">1.5</text>
<text x="0.0" y="6.0" font-size="17.5" font-family="'Liberation Serif', 'Noto Serif CJK SC', serif" fill="#111" text-anchor="middle" transform="matrix(0.832,0.555,-0.828,0.560,1359.2,1456.4)">2.0</text>
<text x="0.0" y="6.0" font-size="17.5" font-family="'Liberation Serif', 'Noto Serif CJK SC', serif" fill="#111" text-anchor="middle" transform="matrix(0.833,-0.554,0.828,0.561,1440.9,1475.4)">0.0</text>
<text x="0.0" y="6.0" font-size="17.5" font-family="'Liberation Serif', 'Noto Serif CJK SC', serif" fill="#111" text-anchor="middle" transform="matrix(0.833,-0.554,0.828,0.561,1522.6,1418.4)">0.5</text>
<text x="0.0" y="6.0" font-size="17.5" font-family="'Liberation Serif', 'Noto Serif CJK SC', serif" fill="#111" text-anchor="middle" transform="matrix(0.833,-0.554,0.828,0.561,1600.5,1367.1)">1.0</text>
<text x="0.0" y="6.0" font-size="17.5" font-family="'Liberation Serif', 'Noto Serif CJK SC', serif" fill="#111" text-anchor="middle" transform="matrix(0.833,-0.554,0.828,0.561,1670.8,1317.7)">1.5</text>
<text x="0.0" y="6.0" font-size="17.5" font-family="'Liberation Serif', 'Noto Serif CJK SC', serif" fill="#111" text-anchor="middle" transform="matrix(0.833,-0.554,0.828,0.561,1733.5,1274.0)">2.0</text>
<text x="0.0" y="5.0" font-size="17.5" font-family="'Liberation Serif', 'Noto Serif CJK SC', serif" fill="#111" text-anchor="middle" font-weight="bold" transform="matrix(0.832,0.555,-0.828,0.560,1197.7,1382.3)">mm</text>
<text x="0.0" y="5.0" font-size="17.5" font-family="'Liberation Serif', 'Noto Serif CJK SC', serif" fill="#111" text-anchor="middle" font-weight="bold" transform="matrix(0.833,-0.554,0.828,0.561,1638.5,1379.6)">mm</text>
<rect x="1870.8" y="1014.7" width="22.9" height="444.6" fill="url(#cbg)" stroke="#111" stroke-width="1.4"/>
<g stroke="#111" stroke-width="1.2">
<line x1="1893.7" y1="1023.3" x2="1896.7" y2="1023.3"/>
<line x1="1893.7" y1="1034.0" x2="1896.7" y2="1034.0"/>
<line x1="1893.7" y1="1044.6" x2="1896.7" y2="1044.6"/>
<line x1="1893.7" y1="1055.2" x2="1896.7" y2="1055.2"/>
<line x1="1893.7" y1="1065.9" x2="1896.7" y2="1065.9"/>
<line x1="1893.7" y1="1076.5" x2="1896.7" y2="1076.5"/>
<line x1="1893.7" y1="1087.2" x2="1896.7" y2="1087.2"/>
<line x1="1893.7" y1="1097.8" x2="1896.7" y2="1097.8"/>
<line x1="1893.7" y1="1108.4" x2="1896.7" y2="1108.4"/>
<line x1="1893.7" y1="1119.1" x2="1896.7" y2="1119.1"/>
<line x1="1893.7" y1="1129.7" x2="1896.7" y2="1129.7"/>
<line x1="1893.7" y1="1140.4" x2="1896.7" y2="1140.4"/>
<line x1="1893.7" y1="1151.0" x2="1896.7" y2="1151.0"/>
<line x1="1893.7" y1="1161.6" x2="1896.7" y2="1161.6"/>
<line x1="1893.7" y1="1172.3" x2="1896.7" y2="1172.3"/>
<line x1="1893.7" y1="1182.9" x2="1896.7" y2="1182.9"/>
<line x1="1893.7" y1="1193.6" x2="1896.7" y2="1193.6"/>
<line x1="1893.7" y1="1204.2" x2="1896.7" y2="1204.2"/>
<line x1="1893.7" y1="1214.8" x2="1896.7" y2="1214.8"/>
<line x1="1893.7" y1="1225.5" x2="1896.7" y2="1225.5"/>
<line x1="1893.7" y1="1236.1" x2="1896.7" y2="1236.1"/>
<line x1="1893.7" y1="1246.8" x2="1896.7" y2="1246.8"/>
<line x1="1893.7" y1="1257.4" x2="1896.7" y2="1257.4"/>
<line x1="1893.7" y1="1268.0" x2="1896.7" y2="1268.0"/>
<line x1="1893.7" y1="1278.7" x2="1896.7" y2="1278.7"/>
<line x1="1893.7" y1="1289.3" x2="1896.7" y2="1289.3"/>
<line x1="1893.7" y1="1300.0" x2="1896.7" y2="1300.0"/>
<line x1="1893.7" y1="1310.6" x2="1896.7" y2="1310.6"/>
<line x1="1893.7" y1="1321.2" x2="1896.7" y2="1321.2"/>
<line x1="1893.7" y1="1331.9" x2="1896.7" y2="1331.9"/>
<line x1="1893.7" y1="1342.5" x2="1896.7" y2="1342.5"/>
<line x1="1893.7" y1="1353.2" x2="1896.7" y2="1353.2"/>
<line x1="1893.7" y1="1363.8" x2="1896.7" y2="1363.8"/>
<line x1="1893.7" y1="1374.4" x2="1896.7" y2="1374.4"/>
<line x1="1893.7" y1="1385.1" x2="1896.7" y2="1385.1"/>
<line x1="1893.7" y1="1395.7" x2="1896.7" y2="1395.7"/>
<line x1="1893.7" y1="1406.4" x2="1896.7" y2="1406.4"/>
<line x1="1893.7" y1="1417.0" x2="1896.7" y2="1417.0"/>
<line x1="1893.7" y1="1427.6" x2="1896.7" y2="1427.6"/>
<line x1="1893.7" y1="1438.3" x2="1896.7" y2="1438.3"/>
<line x1="1893.7" y1="1448.9" x2="1896.7" y2="1448.9"/>
<line x1="1893.7" y1="1044.6" x2="1901.2" y2="1044.6"/>
<line x1="1893.7" y1="1097.8" x2="1901.2" y2="1097.8"/>
<line x1="1893.7" y1="1150.6" x2="1901.2" y2="1150.6"/>
<line x1="1893.7" y1="1203.4" x2="1901.2" y2="1203.4"/>
<line x1="1893.7" y1="1256.9" x2="1901.2" y2="1256.9"/>
<line x1="1893.7" y1="1309.7" x2="1901.2" y2="1309.7"/>
<line x1="1893.7" y1="1362.5" x2="1901.2" y2="1362.5"/>
<line x1="1893.7" y1="1415.3" x2="1901.2" y2="1415.3"/>
</g>
<text x="1911.0" y="1050.0" font-size="16" font-family="'Liberation Serif', 'Noto Serif CJK SC', serif" fill="#111" textLength="31.7" lengthAdjust="spacingAndGlyphs" stroke="#111" stroke-width="0.35">400</text>
<text x="1911.0" y="1103.2" font-size="16" font-family="'Liberation Serif', 'Noto Serif CJK SC', serif" fill="#111" textLength="31.7" lengthAdjust="spacingAndGlyphs" stroke="#111" stroke-width="0.35">300</text>
<text x="1911.0" y="1156.0" font-size="16" font-family="'Liberation Serif', 'Noto Serif CJK SC', serif" fill="#111" textLength="31.7" lengthAdjust="spacingAndGlyphs" stroke="#111" stroke-width="0.35">200</text>
<text x="1911.0" y="1208.8" font-size="16" font-family="'Liberation Serif', 'Noto Serif CJK SC', serif" fill="#111" textLength="31.7" lengthAdjust="spacingAndGlyphs" stroke="#111" stroke-width="0.35">100</text>
<text x="1911.0" y="1262.3" font-size="16" font-family="'Liberation Serif', 'Noto Serif CJK SC', serif" fill="#111" textLength="9.5" lengthAdjust="spacingAndGlyphs" stroke="#111" stroke-width="0.35">0</text>
<text x="1911.0" y="1315.1" font-size="16" font-family="'Liberation Serif', 'Noto Serif CJK SC', serif" fill="#111" textLength="40.5" lengthAdjust="spacingAndGlyphs" stroke="#111" stroke-width="0.35">-100</text>
<text x="1911.0" y="1367.9" font-size="16" font-family="'Liberation Serif', 'Noto Serif CJK SC', serif" fill="#111" textLength="40.5" lengthAdjust="spacingAndGlyphs" stroke="#111" stroke-width="0.35">-200</text>
<text x="1911.0" y="1420.7" font-size="16" font-family="'Liberation Serif', 'Noto Serif CJK SC', serif" fill="#111" textLength="40.5" lengthAdjust="spacingAndGlyphs" stroke="#111" stroke-width="0.35">-300</text>
<text x="1911.0" y="999.5" font-size="16" font-family="'Liberation Serif', 'Noto Serif CJK SC', serif" fill="#111" textLength="28.5" lengthAdjust="spacingAndGlyphs" stroke="#111" stroke-width="0.35">μm</text>
<text x="1113.8" y="1059.5" font-size="48.5" font-family="'Liberation Serif', 'Noto Serif CJK SC', serif" fill="#000" textLength="59.5" lengthAdjust="spacingAndGlyphs">(e)</text>
<g stroke="#000" stroke-width="2.5" fill="none" stroke-linecap="square">
<line x1="4.2" y1="4.1" x2="1050.5" y2="4.1"/>
<line x1="4.2" y1="4.1" x2="4.2" y2="1491.2"/>
<line x1="4.2" y1="775.6" x2="1050.5" y2="775.6"/>
<line x1="4.2" y1="1491.2" x2="1050.5" y2="1491.2"/>
</g>
<line x1="4" y1="778.6" x2="1050" y2="778.6" stroke="#e6e6e6" stroke-width="2"/>
<g stroke="#4a4a4a" stroke-width="2.2" fill="none">
<line x1="1052.1" y1="3" x2="1052.1" y2="1492.3"/>
<line x1="1993.5" y1="3" x2="1993.5" y2="1492.3"/>
<line x1="1053" y1="492" x2="1994" y2="492"/>
<line x1="1053" y1="981.2" x2="1994" y2="981.2"/>
<line x1="1051" y1="1491.2" x2="1994" y2="1491.2"/>
</g>
<line x1="1053" y1="4.8" x2="1994" y2="4.8" stroke="#666" stroke-width="3.2"/>
</svg></body></html>
